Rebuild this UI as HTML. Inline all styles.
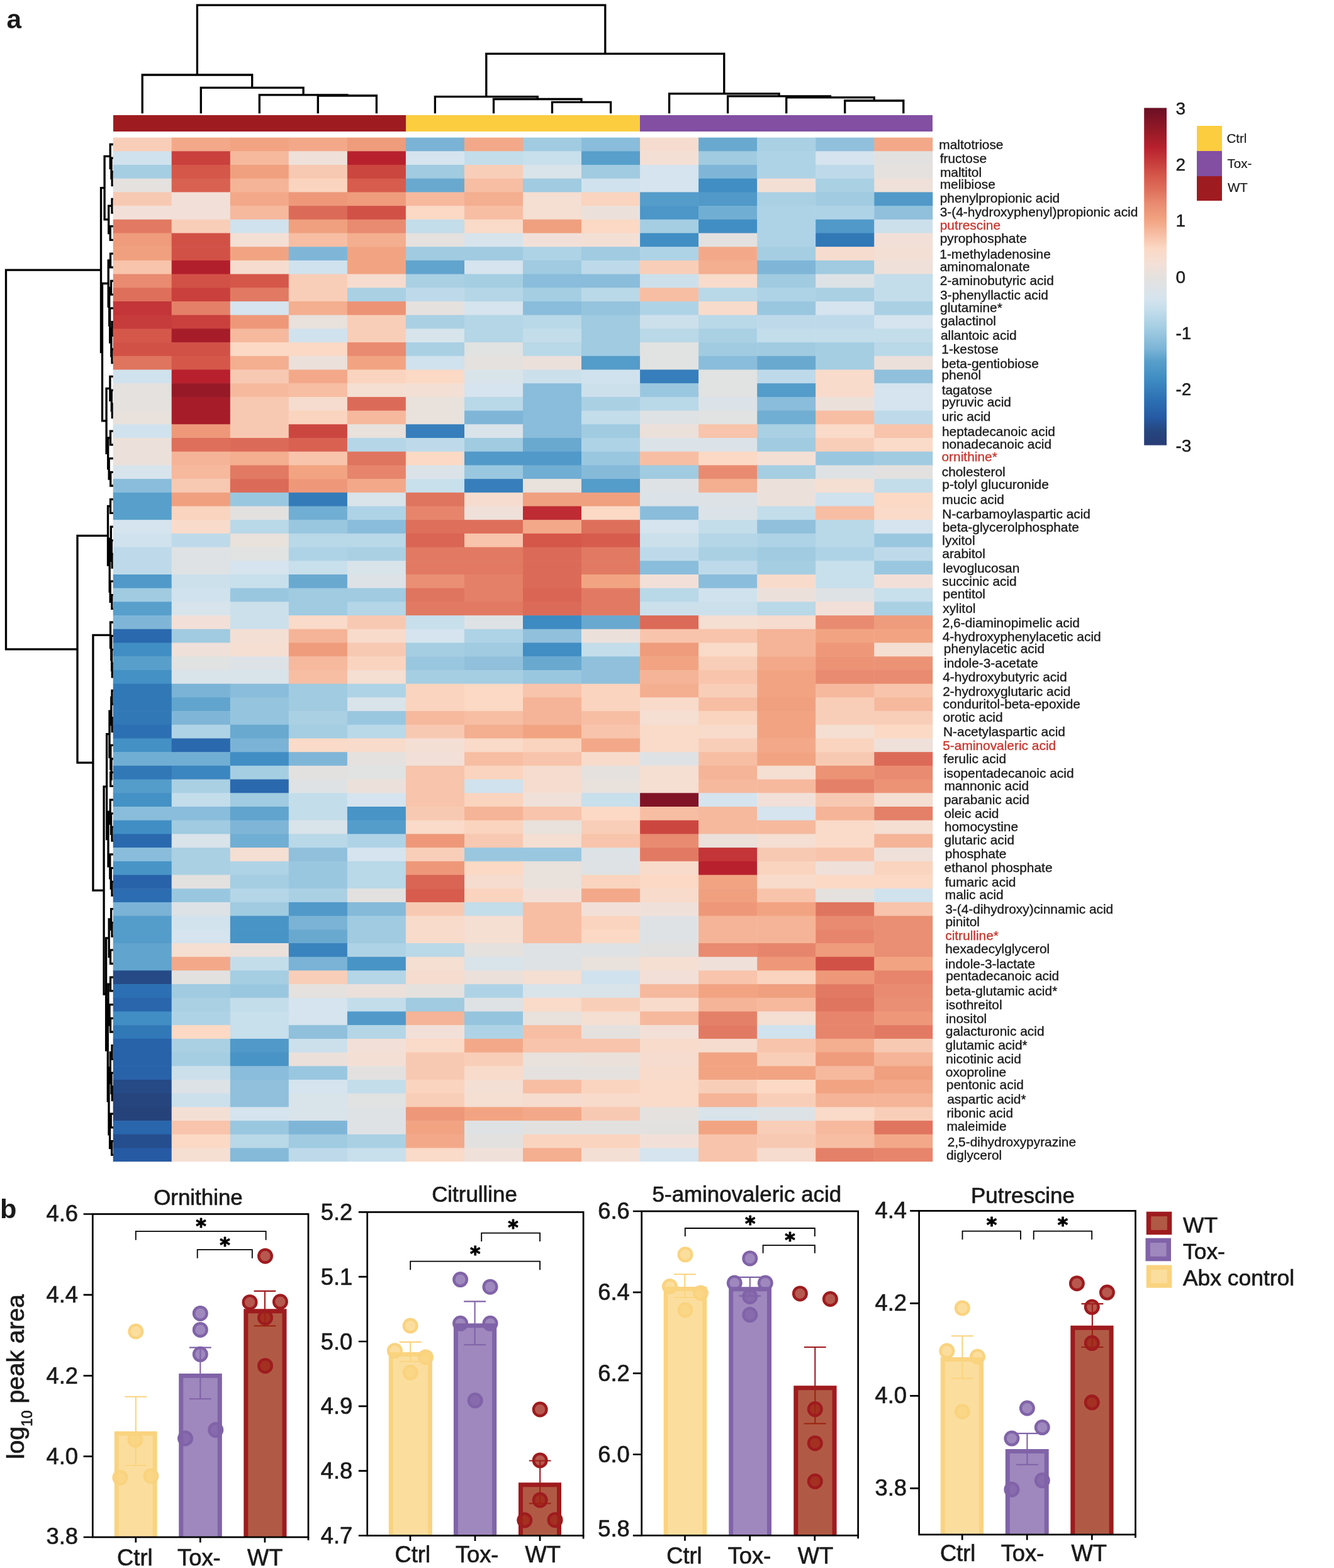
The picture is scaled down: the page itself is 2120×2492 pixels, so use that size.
<!DOCTYPE html>
<html lang="en"><head><meta charset="utf-8"><title>Figure</title>
<style>html,body{margin:0;padding:0;background:#fff}svg{display:block}text{font-family:"Liberation Sans", sans-serif;fill:#1a1a1a}.lb{font-size:20.9px;stroke:#1a1a1a;stroke-width:0.35}.lb .hl{stroke:#c8372d}.hl{fill:#c8372d}.tk{font-size:36.3px}.ti{font-size:34.9px}.cb{font-size:28px;stroke:#1a1a1a;stroke-width:0.4}.lg{font-size:20.5px;stroke:#1a1a1a;stroke-width:0.2}.lg2{font-size:35.4px}.pn{font-weight:bold;font-size:44px}.st{font-family:"DejaVu Sans",sans-serif;font-size:31.5px;font-weight:bold;fill:#000;stroke:#000;stroke-width:1.1;stroke-linejoin:round}.sk{stroke:#1a1a1a;stroke-width:0.7}.d{fill:none;stroke:#000;stroke-width:3.3;stroke-linecap:butt;stroke-linejoin:miter}.ax{fill:none;stroke:#000;stroke-width:2.7}.br{fill:none;stroke:#000;stroke-width:1.8}</style></head><body>
<svg width="2120" height="2492" viewBox="0 0 2120 2492" role="img" aria-label="Clustered heatmap of metabolites and bar charts of log10 peak area">
<rect width="2120" height="2492" fill="#fff"/>
<path class="d" d="M180.5 272.9 H178.2 V294.6 H180.5 M180.5 251.2 H177.0 V283.7 H178.2 M180.5 229.5 H175.2 V267.4 H177.0 M180.5 316.3 H178.0 V338.0 H180.5 M180.5 359.7 H175.2 V381.4 H180.5 M178.0 327.1 H172.7 V370.5 H175.2 M175.2 248.4 H166.1 V348.8 H172.7 M180.5 403.1 H175.5 V424.8 H180.5 M180.5 446.5 H176.5 V468.2 H180.5 M180.5 511.6 H178.2 V533.3 H180.5 M180.5 555.0 H178.0 V576.7 H180.5 M178.2 522.4 H176.8 V565.8 H178.0 M180.5 489.9 H174.7 V544.1 H176.8 M176.5 457.3 H173.7 V517.0 H174.7 M175.5 413.9 H172.2 V487.2 H173.7 M180.5 641.8 H178.3 V663.5 H180.5 M180.5 620.1 H177.3 V652.6 H178.3 M180.5 598.4 H174.9 V636.4 H177.3 M180.5 685.2 H175.5 V706.9 H180.5 M180.5 750.3 H175.7 V772.0 H180.5 M180.5 728.6 H173.2 V761.1 H175.7 M175.5 696.0 H171.7 V744.9 H173.2 M174.9 617.4 H169.1 V720.4 H171.7 M172.2 450.5 H162.5 V668.9 H169.1 M166.1 298.6 H160.5 V559.7 H162.5 M180.5 793.7 H175.5 V815.4 H180.5 M180.5 880.5 H178.2 V902.2 H180.5 M180.5 858.8 H177.3 V891.3 H178.2 M180.5 837.1 H176.3 V875.1 H177.3 M180.5 945.6 H177.8 V967.3 H180.5 M180.5 923.9 H175.2 V956.4 H177.8 M176.3 856.1 H174.2 V940.2 H175.2 M175.5 804.5 H171.5 V898.1 H174.2 M180.5 1054.1 H178.3 V1075.8 H180.5 M180.5 1032.4 H177.6 V1065.0 H178.3 M180.5 1010.7 H176.8 V1048.7 H177.6 M180.5 989.0 H175.5 V1029.7 H176.8 M180.5 1097.5 H178.0 V1119.2 H180.5 M180.5 1140.9 H178.2 V1162.6 H180.5 M178.0 1108.4 H176.8 V1151.8 H178.2 M180.5 1227.7 H175.7 V1249.4 H180.5 M180.5 1206.0 H177.0 V1238.6 H175.7 M180.5 1184.3 H175.8 V1222.3 H177.0 M176.8 1130.1 H174.0 V1203.3 H175.8 M180.5 1314.5 H178.0 V1336.2 H180.5 M180.5 1292.8 H176.5 V1325.4 H178.0 M180.5 1271.1 H175.2 V1309.1 H176.5 M180.5 1401.3 H178.0 V1423.0 H180.5 M180.5 1379.6 H176.3 V1412.2 H178.0 M180.5 1357.9 H174.8 V1395.9 H176.3 M175.2 1290.1 H172.0 V1376.9 H174.8 M174.0 1166.7 H169.6 V1333.5 H172.0 M180.5 1466.4 H178.0 V1488.1 H180.5 M180.5 1444.7 H176.6 V1477.3 H178.0 M180.5 1509.8 H175.5 V1531.5 H180.5 M176.6 1461.0 H173.2 V1520.7 H175.5 M180.5 1553.2 H175.5 V1574.9 H180.5 M180.5 1618.3 H175.5 V1640.0 H180.5 M180.5 1596.6 H174.0 V1629.2 H175.5 M175.5 1564.1 H172.0 V1612.9 H174.0 M180.5 1661.7 H178.0 V1683.4 H180.5 M180.5 1726.8 H178.3 V1748.5 H180.5 M180.5 1705.1 H177.0 V1737.7 H178.3 M178.0 1672.6 H175.3 V1721.4 H177.0 M180.5 1770.2 H176.2 V1791.9 H180.5 M180.5 1813.6 H177.6 V1835.3 H180.5 M176.2 1781.1 H174.6 V1824.5 H177.6 M175.3 1697.0 H173.0 V1802.8 H174.6 M172.0 1588.5 H171.3 V1749.9 H173.0 M173.2 1490.8 H168.6 V1669.2 H171.3 M169.6 1250.1 H165.1 V1580.0 H168.6 M175.5 1009.3 H147.9 V1415.1 H165.1 M171.5 851.3 H123.0 V1212.2 H147.9 M160.5 429.2 H9.5 V1031.8 H123.0"/>
<g>
<rect x="179.7" y="218.6" width="93.6" height="22.3" fill="#f9ceb8"/>
<rect x="272.7" y="218.6" width="93.6" height="22.3" fill="#f3a989"/>
<rect x="365.8" y="218.6" width="93.6" height="22.3" fill="#f2a482"/>
<rect x="458.8" y="218.6" width="93.6" height="22.3" fill="#f3a989"/>
<rect x="551.9" y="218.6" width="93.6" height="22.3" fill="#ef9c7c"/>
<rect x="644.9" y="218.6" width="93.6" height="22.3" fill="#7ab3d6"/>
<rect x="738.0" y="218.6" width="93.6" height="22.3" fill="#f3a989"/>
<rect x="831.0" y="218.6" width="93.6" height="22.3" fill="#a0cbe1"/>
<rect x="924.0" y="218.6" width="93.6" height="22.3" fill="#8abddb"/>
<rect x="1017.1" y="218.6" width="93.6" height="22.3" fill="#f6dcce"/>
<rect x="1110.1" y="218.6" width="93.6" height="22.3" fill="#69a9d0"/>
<rect x="1203.2" y="218.6" width="93.6" height="22.3" fill="#aad0e4"/>
<rect x="1296.2" y="218.6" width="93.6" height="22.3" fill="#90c0dc"/>
<rect x="1389.3" y="218.6" width="93.0" height="22.3" fill="#f3a989"/>
<rect x="179.7" y="240.3" width="93.6" height="22.3" fill="#d0e2ed"/>
<rect x="272.7" y="240.3" width="93.6" height="22.3" fill="#c9403d"/>
<rect x="365.8" y="240.3" width="93.6" height="22.3" fill="#f6b99e"/>
<rect x="458.8" y="240.3" width="93.6" height="22.3" fill="#efe0da"/>
<rect x="551.9" y="240.3" width="93.6" height="22.3" fill="#b8202e"/>
<rect x="644.9" y="240.3" width="93.6" height="22.3" fill="#d5e4ee"/>
<rect x="738.0" y="240.3" width="93.6" height="22.3" fill="#c3ddeb"/>
<rect x="831.0" y="240.3" width="93.6" height="22.3" fill="#c8dfec"/>
<rect x="924.0" y="240.3" width="93.6" height="22.3" fill="#589fcb"/>
<rect x="1017.1" y="240.3" width="93.6" height="22.3" fill="#f4dfd5"/>
<rect x="1110.1" y="240.3" width="93.6" height="22.3" fill="#a0cbe1"/>
<rect x="1203.2" y="240.3" width="93.6" height="22.3" fill="#afd3e6"/>
<rect x="1296.2" y="240.3" width="93.6" height="22.3" fill="#d5e4ee"/>
<rect x="1389.3" y="240.3" width="93.0" height="22.3" fill="#e3e1e0"/>
<rect x="179.7" y="262.0" width="93.6" height="22.3" fill="#a5cee3"/>
<rect x="272.7" y="262.0" width="93.6" height="22.3" fill="#d5574a"/>
<rect x="365.8" y="262.0" width="93.6" height="22.3" fill="#f0a07f"/>
<rect x="458.8" y="262.0" width="93.6" height="22.3" fill="#f8c9b2"/>
<rect x="551.9" y="262.0" width="93.6" height="22.3" fill="#cc4640"/>
<rect x="644.9" y="262.0" width="93.6" height="22.3" fill="#a0cbe1"/>
<rect x="738.0" y="262.0" width="93.6" height="22.3" fill="#f9ceb8"/>
<rect x="831.0" y="262.0" width="93.6" height="22.3" fill="#d9e3ea"/>
<rect x="924.0" y="262.0" width="93.6" height="22.3" fill="#a0cbe1"/>
<rect x="1017.1" y="262.0" width="93.6" height="22.3" fill="#d5e4ee"/>
<rect x="1110.1" y="262.0" width="93.6" height="22.3" fill="#7fb6d8"/>
<rect x="1203.2" y="262.0" width="93.6" height="22.3" fill="#afd3e6"/>
<rect x="1296.2" y="262.0" width="93.6" height="22.3" fill="#bedaea"/>
<rect x="1389.3" y="262.0" width="93.0" height="22.3" fill="#e5e1de"/>
<rect x="179.7" y="283.7" width="93.6" height="22.3" fill="#e5e1de"/>
<rect x="272.7" y="283.7" width="93.6" height="22.3" fill="#d96151"/>
<rect x="365.8" y="283.7" width="93.6" height="22.3" fill="#f5b497"/>
<rect x="458.8" y="283.7" width="93.6" height="22.3" fill="#fad4be"/>
<rect x="551.9" y="283.7" width="93.6" height="22.3" fill="#d75c4d"/>
<rect x="644.9" y="283.7" width="93.6" height="22.3" fill="#69a9d0"/>
<rect x="738.0" y="283.7" width="93.6" height="22.3" fill="#f7bea4"/>
<rect x="831.0" y="283.7" width="93.6" height="22.3" fill="#a0cbe1"/>
<rect x="924.0" y="283.7" width="93.6" height="22.3" fill="#d0e2ed"/>
<rect x="1017.1" y="283.7" width="93.6" height="22.3" fill="#d5e4ee"/>
<rect x="1110.1" y="283.7" width="93.6" height="22.3" fill="#408ec4"/>
<rect x="1203.2" y="283.7" width="93.6" height="22.3" fill="#f4dfd5"/>
<rect x="1296.2" y="283.7" width="93.6" height="22.3" fill="#aad0e4"/>
<rect x="1389.3" y="283.7" width="93.0" height="22.3" fill="#efe0da"/>
<rect x="179.7" y="305.4" width="93.6" height="22.3" fill="#f8c9b2"/>
<rect x="272.7" y="305.4" width="93.6" height="22.3" fill="#f2e0d8"/>
<rect x="365.8" y="305.4" width="93.6" height="22.3" fill="#f3a989"/>
<rect x="458.8" y="305.4" width="93.6" height="22.3" fill="#ee9879"/>
<rect x="551.9" y="305.4" width="93.6" height="22.3" fill="#ef9c7c"/>
<rect x="644.9" y="305.4" width="93.6" height="22.3" fill="#f6b99e"/>
<rect x="738.0" y="305.4" width="93.6" height="22.3" fill="#f4ae90"/>
<rect x="831.0" y="305.4" width="93.6" height="22.3" fill="#f5ded2"/>
<rect x="924.0" y="305.4" width="93.6" height="22.3" fill="#fad4be"/>
<rect x="1017.1" y="305.4" width="93.6" height="22.3" fill="#549cca"/>
<rect x="1110.1" y="305.4" width="93.6" height="22.3" fill="#5099c9"/>
<rect x="1203.2" y="305.4" width="93.6" height="22.3" fill="#aad0e4"/>
<rect x="1296.2" y="305.4" width="93.6" height="22.3" fill="#a0cbe1"/>
<rect x="1389.3" y="305.4" width="93.0" height="22.3" fill="#5099c9"/>
<rect x="179.7" y="327.1" width="93.6" height="22.3" fill="#f2e0d8"/>
<rect x="272.7" y="327.1" width="93.6" height="22.3" fill="#f2e0d8"/>
<rect x="365.8" y="327.1" width="93.6" height="22.3" fill="#f6b99e"/>
<rect x="458.8" y="327.1" width="93.6" height="22.3" fill="#dc6a58"/>
<rect x="551.9" y="327.1" width="93.6" height="22.3" fill="#d25147"/>
<rect x="644.9" y="327.1" width="93.6" height="22.3" fill="#fbd9c5"/>
<rect x="738.0" y="327.1" width="93.6" height="22.3" fill="#f7bea4"/>
<rect x="831.0" y="327.1" width="93.6" height="22.3" fill="#f5ded2"/>
<rect x="924.0" y="327.1" width="93.6" height="22.3" fill="#ece0db"/>
<rect x="1017.1" y="327.1" width="93.6" height="22.3" fill="#4c96c8"/>
<rect x="1110.1" y="327.1" width="93.6" height="22.3" fill="#71aed3"/>
<rect x="1203.2" y="327.1" width="93.6" height="22.3" fill="#afd3e6"/>
<rect x="1296.2" y="327.1" width="93.6" height="22.3" fill="#afd3e6"/>
<rect x="1389.3" y="327.1" width="93.0" height="22.3" fill="#90c0dc"/>
<rect x="179.7" y="348.8" width="93.6" height="22.3" fill="#e27a63"/>
<rect x="272.7" y="348.8" width="93.6" height="22.3" fill="#f9ceb8"/>
<rect x="365.8" y="348.8" width="93.6" height="22.3" fill="#d0e2ed"/>
<rect x="458.8" y="348.8" width="93.6" height="22.3" fill="#f0a07f"/>
<rect x="551.9" y="348.8" width="93.6" height="22.3" fill="#e98b70"/>
<rect x="644.9" y="348.8" width="93.6" height="22.3" fill="#c3ddeb"/>
<rect x="738.0" y="348.8" width="93.6" height="22.3" fill="#fadac8"/>
<rect x="831.0" y="348.8" width="93.6" height="22.3" fill="#f0a07f"/>
<rect x="924.0" y="348.8" width="93.6" height="22.3" fill="#fbd9c5"/>
<rect x="1017.1" y="348.8" width="93.6" height="22.3" fill="#a5cee3"/>
<rect x="1110.1" y="348.8" width="93.6" height="22.3" fill="#408ec4"/>
<rect x="1203.2" y="348.8" width="93.6" height="22.3" fill="#afd3e6"/>
<rect x="1296.2" y="348.8" width="93.6" height="22.3" fill="#5099c9"/>
<rect x="1389.3" y="348.8" width="93.0" height="22.3" fill="#cce0ec"/>
<rect x="179.7" y="370.5" width="93.6" height="22.3" fill="#ef9c7c"/>
<rect x="272.7" y="370.5" width="93.6" height="22.3" fill="#d25147"/>
<rect x="365.8" y="370.5" width="93.6" height="22.3" fill="#f4dfd5"/>
<rect x="458.8" y="370.5" width="93.6" height="22.3" fill="#f7bea4"/>
<rect x="551.9" y="370.5" width="93.6" height="22.3" fill="#f4ae90"/>
<rect x="644.9" y="370.5" width="93.6" height="22.3" fill="#e5e1de"/>
<rect x="738.0" y="370.5" width="93.6" height="22.3" fill="#d7e4ec"/>
<rect x="831.0" y="370.5" width="93.6" height="22.3" fill="#f2e0d8"/>
<rect x="924.0" y="370.5" width="93.6" height="22.3" fill="#f4dfd5"/>
<rect x="1017.1" y="370.5" width="93.6" height="22.3" fill="#408ec4"/>
<rect x="1110.1" y="370.5" width="93.6" height="22.3" fill="#e3e1e0"/>
<rect x="1203.2" y="370.5" width="93.6" height="22.3" fill="#afd3e6"/>
<rect x="1296.2" y="370.5" width="93.6" height="22.3" fill="#3178b7"/>
<rect x="1389.3" y="370.5" width="93.0" height="22.3" fill="#f2e0d8"/>
<rect x="179.7" y="392.2" width="93.6" height="22.3" fill="#f0a07f"/>
<rect x="272.7" y="392.2" width="93.6" height="22.3" fill="#d25147"/>
<rect x="365.8" y="392.2" width="93.6" height="22.3" fill="#f2a482"/>
<rect x="458.8" y="392.2" width="93.6" height="22.3" fill="#7fb6d8"/>
<rect x="551.9" y="392.2" width="93.6" height="22.3" fill="#f2a482"/>
<rect x="644.9" y="392.2" width="93.6" height="22.3" fill="#a0cbe1"/>
<rect x="738.0" y="392.2" width="93.6" height="22.3" fill="#a0cbe1"/>
<rect x="831.0" y="392.2" width="93.6" height="22.3" fill="#afd3e6"/>
<rect x="924.0" y="392.2" width="93.6" height="22.3" fill="#a0cbe1"/>
<rect x="1017.1" y="392.2" width="93.6" height="22.3" fill="#afd3e6"/>
<rect x="1110.1" y="392.2" width="93.6" height="22.3" fill="#f3a989"/>
<rect x="1203.2" y="392.2" width="93.6" height="22.3" fill="#a5cee3"/>
<rect x="1296.2" y="392.2" width="93.6" height="22.3" fill="#f6dcce"/>
<rect x="1389.3" y="392.2" width="93.0" height="22.3" fill="#f4dfd5"/>
<rect x="179.7" y="413.9" width="93.6" height="22.3" fill="#f8c4ab"/>
<rect x="272.7" y="413.9" width="93.6" height="22.3" fill="#b21f2c"/>
<rect x="365.8" y="413.9" width="93.6" height="22.3" fill="#f6dcce"/>
<rect x="458.8" y="413.9" width="93.6" height="22.3" fill="#d0e2ed"/>
<rect x="551.9" y="413.9" width="93.6" height="22.3" fill="#f2a482"/>
<rect x="644.9" y="413.9" width="93.6" height="22.3" fill="#61a4ce"/>
<rect x="738.0" y="413.9" width="93.6" height="22.3" fill="#d5e4ee"/>
<rect x="831.0" y="413.9" width="93.6" height="22.3" fill="#a0cbe1"/>
<rect x="924.0" y="413.9" width="93.6" height="22.3" fill="#bedaea"/>
<rect x="1017.1" y="413.9" width="93.6" height="22.3" fill="#f9ceb8"/>
<rect x="1110.1" y="413.9" width="93.6" height="22.3" fill="#f4ae90"/>
<rect x="1203.2" y="413.9" width="93.6" height="22.3" fill="#7fb6d8"/>
<rect x="1296.2" y="413.9" width="93.6" height="22.3" fill="#a0cbe1"/>
<rect x="1389.3" y="413.9" width="93.0" height="22.3" fill="#efe0da"/>
<rect x="179.7" y="435.6" width="93.6" height="22.3" fill="#e98b70"/>
<rect x="272.7" y="435.6" width="93.6" height="22.3" fill="#d25147"/>
<rect x="365.8" y="435.6" width="93.6" height="22.3" fill="#d5574a"/>
<rect x="458.8" y="435.6" width="93.6" height="22.3" fill="#f9ceb8"/>
<rect x="551.9" y="435.6" width="93.6" height="22.3" fill="#f6dcce"/>
<rect x="644.9" y="435.6" width="93.6" height="22.3" fill="#aad0e4"/>
<rect x="738.0" y="435.6" width="93.6" height="22.3" fill="#a5cee3"/>
<rect x="831.0" y="435.6" width="93.6" height="22.3" fill="#8abddb"/>
<rect x="924.0" y="435.6" width="93.6" height="22.3" fill="#8abddb"/>
<rect x="1017.1" y="435.6" width="93.6" height="22.3" fill="#cce0ec"/>
<rect x="1110.1" y="435.6" width="93.6" height="22.3" fill="#f8dbcb"/>
<rect x="1203.2" y="435.6" width="93.6" height="22.3" fill="#a0cbe1"/>
<rect x="1296.2" y="435.6" width="93.6" height="22.3" fill="#dde2e6"/>
<rect x="1389.3" y="435.6" width="93.0" height="22.3" fill="#c3ddeb"/>
<rect x="179.7" y="457.3" width="93.6" height="22.3" fill="#de6f5b"/>
<rect x="272.7" y="457.3" width="93.6" height="22.3" fill="#c9403d"/>
<rect x="365.8" y="457.3" width="93.6" height="22.3" fill="#e27a63"/>
<rect x="458.8" y="457.3" width="93.6" height="22.3" fill="#f9ceb8"/>
<rect x="551.9" y="457.3" width="93.6" height="22.3" fill="#aad0e4"/>
<rect x="644.9" y="457.3" width="93.6" height="22.3" fill="#bedaea"/>
<rect x="738.0" y="457.3" width="93.6" height="22.3" fill="#b4d6e7"/>
<rect x="831.0" y="457.3" width="93.6" height="22.3" fill="#a5cee3"/>
<rect x="924.0" y="457.3" width="93.6" height="22.3" fill="#b9d8e8"/>
<rect x="1017.1" y="457.3" width="93.6" height="22.3" fill="#f7bea4"/>
<rect x="1110.1" y="457.3" width="93.6" height="22.3" fill="#b9d8e8"/>
<rect x="1203.2" y="457.3" width="93.6" height="22.3" fill="#afd3e6"/>
<rect x="1296.2" y="457.3" width="93.6" height="22.3" fill="#aad0e4"/>
<rect x="1389.3" y="457.3" width="93.0" height="22.3" fill="#c3ddeb"/>
<rect x="179.7" y="479.0" width="93.6" height="22.3" fill="#c33538"/>
<rect x="272.7" y="479.0" width="93.6" height="22.3" fill="#e58068"/>
<rect x="365.8" y="479.0" width="93.6" height="22.3" fill="#d5e4ee"/>
<rect x="458.8" y="479.0" width="93.6" height="22.3" fill="#f4ae90"/>
<rect x="551.9" y="479.0" width="93.6" height="22.3" fill="#ec9376"/>
<rect x="644.9" y="479.0" width="93.6" height="22.3" fill="#e5e1de"/>
<rect x="738.0" y="479.0" width="93.6" height="22.3" fill="#d5e4ee"/>
<rect x="831.0" y="479.0" width="93.6" height="22.3" fill="#8abddb"/>
<rect x="924.0" y="479.0" width="93.6" height="22.3" fill="#95c4de"/>
<rect x="1017.1" y="479.0" width="93.6" height="22.3" fill="#afd3e6"/>
<rect x="1110.1" y="479.0" width="93.6" height="22.3" fill="#f8dbcb"/>
<rect x="1203.2" y="479.0" width="93.6" height="22.3" fill="#9ac7e0"/>
<rect x="1296.2" y="479.0" width="93.6" height="22.3" fill="#d5e4ee"/>
<rect x="1389.3" y="479.0" width="93.0" height="22.3" fill="#aad0e4"/>
<rect x="179.7" y="500.7" width="93.6" height="22.3" fill="#c63b3b"/>
<rect x="272.7" y="500.7" width="93.6" height="22.3" fill="#c9403d"/>
<rect x="365.8" y="500.7" width="93.6" height="22.3" fill="#ee9879"/>
<rect x="458.8" y="500.7" width="93.6" height="22.3" fill="#e8e1dc"/>
<rect x="551.9" y="500.7" width="93.6" height="22.3" fill="#f9ceb8"/>
<rect x="644.9" y="500.7" width="93.6" height="22.3" fill="#aad0e4"/>
<rect x="738.0" y="500.7" width="93.6" height="22.3" fill="#b4d6e7"/>
<rect x="831.0" y="500.7" width="93.6" height="22.3" fill="#b9d8e8"/>
<rect x="924.0" y="500.7" width="93.6" height="22.3" fill="#a0cbe1"/>
<rect x="1017.1" y="500.7" width="93.6" height="22.3" fill="#cce0ec"/>
<rect x="1110.1" y="500.7" width="93.6" height="22.3" fill="#b9d8e8"/>
<rect x="1203.2" y="500.7" width="93.6" height="22.3" fill="#bedaea"/>
<rect x="1296.2" y="500.7" width="93.6" height="22.3" fill="#bedaea"/>
<rect x="1389.3" y="500.7" width="93.0" height="22.3" fill="#d5e4ee"/>
<rect x="179.7" y="522.4" width="93.6" height="22.3" fill="#d5574a"/>
<rect x="272.7" y="522.4" width="93.6" height="22.3" fill="#a61d29"/>
<rect x="365.8" y="522.4" width="93.6" height="22.3" fill="#f6b99e"/>
<rect x="458.8" y="522.4" width="93.6" height="22.3" fill="#d0e2ed"/>
<rect x="551.9" y="522.4" width="93.6" height="22.3" fill="#f9ceb8"/>
<rect x="644.9" y="522.4" width="93.6" height="22.3" fill="#d7e4ec"/>
<rect x="738.0" y="522.4" width="93.6" height="22.3" fill="#b4d6e7"/>
<rect x="831.0" y="522.4" width="93.6" height="22.3" fill="#c3ddeb"/>
<rect x="924.0" y="522.4" width="93.6" height="22.3" fill="#a0cbe1"/>
<rect x="1017.1" y="522.4" width="93.6" height="22.3" fill="#b9d8e8"/>
<rect x="1110.1" y="522.4" width="93.6" height="22.3" fill="#aad0e4"/>
<rect x="1203.2" y="522.4" width="93.6" height="22.3" fill="#c3ddeb"/>
<rect x="1296.2" y="522.4" width="93.6" height="22.3" fill="#c3ddeb"/>
<rect x="1389.3" y="522.4" width="93.0" height="22.3" fill="#c3ddeb"/>
<rect x="179.7" y="544.1" width="93.6" height="22.3" fill="#d25147"/>
<rect x="272.7" y="544.1" width="93.6" height="22.3" fill="#d25147"/>
<rect x="365.8" y="544.1" width="93.6" height="22.3" fill="#fbd9c5"/>
<rect x="458.8" y="544.1" width="93.6" height="22.3" fill="#fbd9c5"/>
<rect x="551.9" y="544.1" width="93.6" height="22.3" fill="#e98b70"/>
<rect x="644.9" y="544.1" width="93.6" height="22.3" fill="#aad0e4"/>
<rect x="738.0" y="544.1" width="93.6" height="22.3" fill="#e1e2e2"/>
<rect x="831.0" y="544.1" width="93.6" height="22.3" fill="#b9d8e8"/>
<rect x="924.0" y="544.1" width="93.6" height="22.3" fill="#a0cbe1"/>
<rect x="1017.1" y="544.1" width="93.6" height="22.3" fill="#e1e2e2"/>
<rect x="1110.1" y="544.1" width="93.6" height="22.3" fill="#a0cbe1"/>
<rect x="1203.2" y="544.1" width="93.6" height="22.3" fill="#a0cbe1"/>
<rect x="1296.2" y="544.1" width="93.6" height="22.3" fill="#a5cee3"/>
<rect x="1389.3" y="544.1" width="93.0" height="22.3" fill="#b9d8e8"/>
<rect x="179.7" y="565.8" width="93.6" height="22.3" fill="#e0755f"/>
<rect x="272.7" y="565.8" width="93.6" height="22.3" fill="#d5574a"/>
<rect x="365.8" y="565.8" width="93.6" height="22.3" fill="#f4ae90"/>
<rect x="458.8" y="565.8" width="93.6" height="22.3" fill="#ece0db"/>
<rect x="551.9" y="565.8" width="93.6" height="22.3" fill="#f2a482"/>
<rect x="644.9" y="565.8" width="93.6" height="22.3" fill="#d0e2ed"/>
<rect x="738.0" y="565.8" width="93.6" height="22.3" fill="#e5e1de"/>
<rect x="831.0" y="565.8" width="93.6" height="22.3" fill="#ece0db"/>
<rect x="924.0" y="565.8" width="93.6" height="22.3" fill="#549cca"/>
<rect x="1017.1" y="565.8" width="93.6" height="22.3" fill="#e1e2e2"/>
<rect x="1110.1" y="565.8" width="93.6" height="22.3" fill="#8abddb"/>
<rect x="1203.2" y="565.8" width="93.6" height="22.3" fill="#69a9d0"/>
<rect x="1296.2" y="565.8" width="93.6" height="22.3" fill="#a5cee3"/>
<rect x="1389.3" y="565.8" width="93.0" height="22.3" fill="#ece0db"/>
<rect x="179.7" y="587.5" width="93.6" height="22.3" fill="#d0e2ed"/>
<rect x="272.7" y="587.5" width="93.6" height="22.3" fill="#b8202e"/>
<rect x="365.8" y="587.5" width="93.6" height="22.3" fill="#f8c9b2"/>
<rect x="458.8" y="587.5" width="93.6" height="22.3" fill="#f3a989"/>
<rect x="551.9" y="587.5" width="93.6" height="22.3" fill="#fad4be"/>
<rect x="644.9" y="587.5" width="93.6" height="22.3" fill="#fbd9c5"/>
<rect x="738.0" y="587.5" width="93.6" height="22.3" fill="#d9e3ea"/>
<rect x="831.0" y="587.5" width="93.6" height="22.3" fill="#cce0ec"/>
<rect x="924.0" y="587.5" width="93.6" height="22.3" fill="#d0e2ed"/>
<rect x="1017.1" y="587.5" width="93.6" height="22.3" fill="#367fbc"/>
<rect x="1110.1" y="587.5" width="93.6" height="22.3" fill="#e1e2e2"/>
<rect x="1203.2" y="587.5" width="93.6" height="22.3" fill="#bedaea"/>
<rect x="1296.2" y="587.5" width="93.6" height="22.3" fill="#f8dbcb"/>
<rect x="1389.3" y="587.5" width="93.0" height="22.3" fill="#90c0dc"/>
<rect x="179.7" y="609.2" width="93.6" height="22.3" fill="#e5e1de"/>
<rect x="272.7" y="609.2" width="93.6" height="22.3" fill="#951927"/>
<rect x="365.8" y="609.2" width="93.6" height="22.3" fill="#f6b99e"/>
<rect x="458.8" y="609.2" width="93.6" height="22.3" fill="#f7bea4"/>
<rect x="551.9" y="609.2" width="93.6" height="22.3" fill="#f5ded2"/>
<rect x="644.9" y="609.2" width="93.6" height="22.3" fill="#f4dfd5"/>
<rect x="738.0" y="609.2" width="93.6" height="22.3" fill="#d5e4ee"/>
<rect x="831.0" y="609.2" width="93.6" height="22.3" fill="#8abddb"/>
<rect x="924.0" y="609.2" width="93.6" height="22.3" fill="#cce0ec"/>
<rect x="1017.1" y="609.2" width="93.6" height="22.3" fill="#9ac7e0"/>
<rect x="1110.1" y="609.2" width="93.6" height="22.3" fill="#e1e2e2"/>
<rect x="1203.2" y="609.2" width="93.6" height="22.3" fill="#549cca"/>
<rect x="1296.2" y="609.2" width="93.6" height="22.3" fill="#f8dbcb"/>
<rect x="1389.3" y="609.2" width="93.0" height="22.3" fill="#d5e4ee"/>
<rect x="179.7" y="630.9" width="93.6" height="22.3" fill="#e5e1de"/>
<rect x="272.7" y="630.9" width="93.6" height="22.3" fill="#a61d29"/>
<rect x="365.8" y="630.9" width="93.6" height="22.3" fill="#f8c9b2"/>
<rect x="458.8" y="630.9" width="93.6" height="22.3" fill="#f6dcce"/>
<rect x="551.9" y="630.9" width="93.6" height="22.3" fill="#dc6a58"/>
<rect x="644.9" y="630.9" width="93.6" height="22.3" fill="#e8e1dc"/>
<rect x="738.0" y="630.9" width="93.6" height="22.3" fill="#b9d8e8"/>
<rect x="831.0" y="630.9" width="93.6" height="22.3" fill="#8abddb"/>
<rect x="924.0" y="630.9" width="93.6" height="22.3" fill="#aad0e4"/>
<rect x="1017.1" y="630.9" width="93.6" height="22.3" fill="#b9d8e8"/>
<rect x="1110.1" y="630.9" width="93.6" height="22.3" fill="#dbe3e8"/>
<rect x="1203.2" y="630.9" width="93.6" height="22.3" fill="#8abddb"/>
<rect x="1296.2" y="630.9" width="93.6" height="22.3" fill="#ece0db"/>
<rect x="1389.3" y="630.9" width="93.0" height="22.3" fill="#d5e4ee"/>
<rect x="179.7" y="652.6" width="93.6" height="22.3" fill="#e8e1dc"/>
<rect x="272.7" y="652.6" width="93.6" height="22.3" fill="#a61d29"/>
<rect x="365.8" y="652.6" width="93.6" height="22.3" fill="#f8c9b2"/>
<rect x="458.8" y="652.6" width="93.6" height="22.3" fill="#fad4be"/>
<rect x="551.9" y="652.6" width="93.6" height="22.3" fill="#f6b99e"/>
<rect x="644.9" y="652.6" width="93.6" height="22.3" fill="#e8e1dc"/>
<rect x="738.0" y="652.6" width="93.6" height="22.3" fill="#7fb6d8"/>
<rect x="831.0" y="652.6" width="93.6" height="22.3" fill="#8abddb"/>
<rect x="924.0" y="652.6" width="93.6" height="22.3" fill="#c3ddeb"/>
<rect x="1017.1" y="652.6" width="93.6" height="22.3" fill="#dfe2e4"/>
<rect x="1110.1" y="652.6" width="93.6" height="22.3" fill="#e1e2e2"/>
<rect x="1203.2" y="652.6" width="93.6" height="22.3" fill="#71aed3"/>
<rect x="1296.2" y="652.6" width="93.6" height="22.3" fill="#f7bea4"/>
<rect x="1389.3" y="652.6" width="93.0" height="22.3" fill="#bedaea"/>
<rect x="179.7" y="674.3" width="93.6" height="22.3" fill="#d0e2ed"/>
<rect x="272.7" y="674.3" width="93.6" height="22.3" fill="#ee9879"/>
<rect x="365.8" y="674.3" width="93.6" height="22.3" fill="#f8c9b2"/>
<rect x="458.8" y="674.3" width="93.6" height="22.3" fill="#cc4640"/>
<rect x="551.9" y="674.3" width="93.6" height="22.3" fill="#e8e1dc"/>
<rect x="644.9" y="674.3" width="93.6" height="22.3" fill="#367fbc"/>
<rect x="738.0" y="674.3" width="93.6" height="22.3" fill="#d9e3ea"/>
<rect x="831.0" y="674.3" width="93.6" height="22.3" fill="#8abddb"/>
<rect x="924.0" y="674.3" width="93.6" height="22.3" fill="#a0cbe1"/>
<rect x="1017.1" y="674.3" width="93.6" height="22.3" fill="#ece0db"/>
<rect x="1110.1" y="674.3" width="93.6" height="22.3" fill="#f8c4ab"/>
<rect x="1203.2" y="674.3" width="93.6" height="22.3" fill="#aad0e4"/>
<rect x="1296.2" y="674.3" width="93.6" height="22.3" fill="#fadac8"/>
<rect x="1389.3" y="674.3" width="93.0" height="22.3" fill="#f8c4ab"/>
<rect x="179.7" y="696.0" width="93.6" height="22.3" fill="#ece0db"/>
<rect x="272.7" y="696.0" width="93.6" height="22.3" fill="#de6f5b"/>
<rect x="365.8" y="696.0" width="93.6" height="22.3" fill="#dc6a58"/>
<rect x="458.8" y="696.0" width="93.6" height="22.3" fill="#d96151"/>
<rect x="551.9" y="696.0" width="93.6" height="22.3" fill="#b4d6e7"/>
<rect x="644.9" y="696.0" width="93.6" height="22.3" fill="#bedaea"/>
<rect x="738.0" y="696.0" width="93.6" height="22.3" fill="#a0cbe1"/>
<rect x="831.0" y="696.0" width="93.6" height="22.3" fill="#69a9d0"/>
<rect x="924.0" y="696.0" width="93.6" height="22.3" fill="#afd3e6"/>
<rect x="1017.1" y="696.0" width="93.6" height="22.3" fill="#dbe3e8"/>
<rect x="1110.1" y="696.0" width="93.6" height="22.3" fill="#dbe3e8"/>
<rect x="1203.2" y="696.0" width="93.6" height="22.3" fill="#a0cbe1"/>
<rect x="1296.2" y="696.0" width="93.6" height="22.3" fill="#f9ceb8"/>
<rect x="1389.3" y="696.0" width="93.0" height="22.3" fill="#fadac8"/>
<rect x="179.7" y="717.7" width="93.6" height="22.3" fill="#ece0db"/>
<rect x="272.7" y="717.7" width="93.6" height="22.3" fill="#f5b497"/>
<rect x="365.8" y="717.7" width="93.6" height="22.3" fill="#f4ae90"/>
<rect x="458.8" y="717.7" width="93.6" height="22.3" fill="#f8c4ab"/>
<rect x="551.9" y="717.7" width="93.6" height="22.3" fill="#e0755f"/>
<rect x="644.9" y="717.7" width="93.6" height="22.3" fill="#fbd9c5"/>
<rect x="738.0" y="717.7" width="93.6" height="22.3" fill="#5099c9"/>
<rect x="831.0" y="717.7" width="93.6" height="22.3" fill="#5099c9"/>
<rect x="924.0" y="717.7" width="93.6" height="22.3" fill="#9ac7e0"/>
<rect x="1017.1" y="717.7" width="93.6" height="22.3" fill="#f7bea4"/>
<rect x="1110.1" y="717.7" width="93.6" height="22.3" fill="#fbd9c5"/>
<rect x="1203.2" y="717.7" width="93.6" height="22.3" fill="#f4dfd5"/>
<rect x="1296.2" y="717.7" width="93.6" height="22.3" fill="#9ac7e0"/>
<rect x="1389.3" y="717.7" width="93.0" height="22.3" fill="#a0cbe1"/>
<rect x="179.7" y="739.4" width="93.6" height="22.3" fill="#d7e4ec"/>
<rect x="272.7" y="739.4" width="93.6" height="22.3" fill="#f6b99e"/>
<rect x="365.8" y="739.4" width="93.6" height="22.3" fill="#e27a63"/>
<rect x="458.8" y="739.4" width="93.6" height="22.3" fill="#f2a482"/>
<rect x="551.9" y="739.4" width="93.6" height="22.3" fill="#e7856c"/>
<rect x="644.9" y="739.4" width="93.6" height="22.3" fill="#dbe3e8"/>
<rect x="738.0" y="739.4" width="93.6" height="22.3" fill="#9ac7e0"/>
<rect x="831.0" y="739.4" width="93.6" height="22.3" fill="#71aed3"/>
<rect x="924.0" y="739.4" width="93.6" height="22.3" fill="#85bad9"/>
<rect x="1017.1" y="739.4" width="93.6" height="22.3" fill="#a0cbe1"/>
<rect x="1110.1" y="739.4" width="93.6" height="22.3" fill="#e98b70"/>
<rect x="1203.2" y="739.4" width="93.6" height="22.3" fill="#a5cee3"/>
<rect x="1296.2" y="739.4" width="93.6" height="22.3" fill="#dfe2e4"/>
<rect x="1389.3" y="739.4" width="93.0" height="22.3" fill="#e3e1e0"/>
<rect x="179.7" y="761.1" width="93.6" height="22.3" fill="#8abddb"/>
<rect x="272.7" y="761.1" width="93.6" height="22.3" fill="#f8c9b2"/>
<rect x="365.8" y="761.1" width="93.6" height="22.3" fill="#dc6a58"/>
<rect x="458.8" y="761.1" width="93.6" height="22.3" fill="#ee9879"/>
<rect x="551.9" y="761.1" width="93.6" height="22.3" fill="#f3a989"/>
<rect x="644.9" y="761.1" width="93.6" height="22.3" fill="#c8dfec"/>
<rect x="738.0" y="761.1" width="93.6" height="22.3" fill="#367fbc"/>
<rect x="831.0" y="761.1" width="93.6" height="22.3" fill="#e8e1dc"/>
<rect x="924.0" y="761.1" width="93.6" height="22.3" fill="#549cca"/>
<rect x="1017.1" y="761.1" width="93.6" height="22.3" fill="#dfe2e4"/>
<rect x="1110.1" y="761.1" width="93.6" height="22.3" fill="#f4ae90"/>
<rect x="1203.2" y="761.1" width="93.6" height="22.3" fill="#ece0db"/>
<rect x="1296.2" y="761.1" width="93.6" height="22.3" fill="#f5ded2"/>
<rect x="1389.3" y="761.1" width="93.0" height="22.3" fill="#c3ddeb"/>
<rect x="179.7" y="782.8" width="93.6" height="22.3" fill="#589fcb"/>
<rect x="272.7" y="782.8" width="93.6" height="22.3" fill="#f0a07f"/>
<rect x="365.8" y="782.8" width="93.6" height="22.3" fill="#9ac7e0"/>
<rect x="458.8" y="782.8" width="93.6" height="22.3" fill="#347bb9"/>
<rect x="551.9" y="782.8" width="93.6" height="22.3" fill="#d9e3ea"/>
<rect x="644.9" y="782.8" width="93.6" height="22.3" fill="#e0755f"/>
<rect x="738.0" y="782.8" width="93.6" height="22.3" fill="#f6dcce"/>
<rect x="831.0" y="782.8" width="93.6" height="22.3" fill="#f0a07f"/>
<rect x="924.0" y="782.8" width="93.6" height="22.3" fill="#f0a07f"/>
<rect x="1017.1" y="782.8" width="93.6" height="22.3" fill="#dbe3e8"/>
<rect x="1110.1" y="782.8" width="93.6" height="22.3" fill="#dde2e6"/>
<rect x="1203.2" y="782.8" width="93.6" height="22.3" fill="#ece0db"/>
<rect x="1296.2" y="782.8" width="93.6" height="22.3" fill="#d0e2ed"/>
<rect x="1389.3" y="782.8" width="93.0" height="22.3" fill="#fbd9c5"/>
<rect x="179.7" y="804.5" width="93.6" height="22.3" fill="#589fcb"/>
<rect x="272.7" y="804.5" width="93.6" height="22.3" fill="#fad4be"/>
<rect x="365.8" y="804.5" width="93.6" height="22.3" fill="#e3e1e0"/>
<rect x="458.8" y="804.5" width="93.6" height="22.3" fill="#71aed3"/>
<rect x="551.9" y="804.5" width="93.6" height="22.3" fill="#afd3e6"/>
<rect x="644.9" y="804.5" width="93.6" height="22.3" fill="#e7856c"/>
<rect x="738.0" y="804.5" width="93.6" height="22.3" fill="#efe0da"/>
<rect x="831.0" y="804.5" width="93.6" height="22.3" fill="#be2b33"/>
<rect x="924.0" y="804.5" width="93.6" height="22.3" fill="#fbd9c5"/>
<rect x="1017.1" y="804.5" width="93.6" height="22.3" fill="#8abddb"/>
<rect x="1110.1" y="804.5" width="93.6" height="22.3" fill="#dbe3e8"/>
<rect x="1203.2" y="804.5" width="93.6" height="22.3" fill="#c3ddeb"/>
<rect x="1296.2" y="804.5" width="93.6" height="22.3" fill="#f7bea4"/>
<rect x="1389.3" y="804.5" width="93.0" height="22.3" fill="#fadac8"/>
<rect x="179.7" y="826.2" width="93.6" height="22.3" fill="#d5e4ee"/>
<rect x="272.7" y="826.2" width="93.6" height="22.3" fill="#f8dbcb"/>
<rect x="365.8" y="826.2" width="93.6" height="22.3" fill="#b9d8e8"/>
<rect x="458.8" y="826.2" width="93.6" height="22.3" fill="#9ac7e0"/>
<rect x="551.9" y="826.2" width="93.6" height="22.3" fill="#8abddb"/>
<rect x="644.9" y="826.2" width="93.6" height="22.3" fill="#de6f5b"/>
<rect x="738.0" y="826.2" width="93.6" height="22.3" fill="#de6f5b"/>
<rect x="831.0" y="826.2" width="93.6" height="22.3" fill="#f3a989"/>
<rect x="924.0" y="826.2" width="93.6" height="22.3" fill="#de6f5b"/>
<rect x="1017.1" y="826.2" width="93.6" height="22.3" fill="#d5e4ee"/>
<rect x="1110.1" y="826.2" width="93.6" height="22.3" fill="#c3ddeb"/>
<rect x="1203.2" y="826.2" width="93.6" height="22.3" fill="#90c0dc"/>
<rect x="1296.2" y="826.2" width="93.6" height="22.3" fill="#b9d8e8"/>
<rect x="1389.3" y="826.2" width="93.0" height="22.3" fill="#d5e4ee"/>
<rect x="179.7" y="847.9" width="93.6" height="22.3" fill="#d0e2ed"/>
<rect x="272.7" y="847.9" width="93.6" height="22.3" fill="#bedaea"/>
<rect x="365.8" y="847.9" width="93.6" height="22.3" fill="#e8e1dc"/>
<rect x="458.8" y="847.9" width="93.6" height="22.3" fill="#b9d8e8"/>
<rect x="551.9" y="847.9" width="93.6" height="22.3" fill="#b9d8e8"/>
<rect x="644.9" y="847.9" width="93.6" height="22.3" fill="#da6554"/>
<rect x="738.0" y="847.9" width="93.6" height="22.3" fill="#f8c4ab"/>
<rect x="831.0" y="847.9" width="93.6" height="22.3" fill="#d5574a"/>
<rect x="924.0" y="847.9" width="93.6" height="22.3" fill="#d75c4d"/>
<rect x="1017.1" y="847.9" width="93.6" height="22.3" fill="#cce0ec"/>
<rect x="1110.1" y="847.9" width="93.6" height="22.3" fill="#b4d6e7"/>
<rect x="1203.2" y="847.9" width="93.6" height="22.3" fill="#afd3e6"/>
<rect x="1296.2" y="847.9" width="93.6" height="22.3" fill="#b9d8e8"/>
<rect x="1389.3" y="847.9" width="93.0" height="22.3" fill="#9ac7e0"/>
<rect x="179.7" y="869.6" width="93.6" height="22.3" fill="#bedaea"/>
<rect x="272.7" y="869.6" width="93.6" height="22.3" fill="#dfe2e4"/>
<rect x="365.8" y="869.6" width="93.6" height="22.3" fill="#e1e2e2"/>
<rect x="458.8" y="869.6" width="93.6" height="22.3" fill="#afd3e6"/>
<rect x="551.9" y="869.6" width="93.6" height="22.3" fill="#aad0e4"/>
<rect x="644.9" y="869.6" width="93.6" height="22.3" fill="#e27a63"/>
<rect x="738.0" y="869.6" width="93.6" height="22.3" fill="#e27a63"/>
<rect x="831.0" y="869.6" width="93.6" height="22.3" fill="#dc6a58"/>
<rect x="924.0" y="869.6" width="93.6" height="22.3" fill="#e27a63"/>
<rect x="1017.1" y="869.6" width="93.6" height="22.3" fill="#bedaea"/>
<rect x="1110.1" y="869.6" width="93.6" height="22.3" fill="#aad0e4"/>
<rect x="1203.2" y="869.6" width="93.6" height="22.3" fill="#a0cbe1"/>
<rect x="1296.2" y="869.6" width="93.6" height="22.3" fill="#afd3e6"/>
<rect x="1389.3" y="869.6" width="93.0" height="22.3" fill="#bedaea"/>
<rect x="179.7" y="891.3" width="93.6" height="22.3" fill="#bedaea"/>
<rect x="272.7" y="891.3" width="93.6" height="22.3" fill="#dfe2e4"/>
<rect x="365.8" y="891.3" width="93.6" height="22.3" fill="#d5e4ee"/>
<rect x="458.8" y="891.3" width="93.6" height="22.3" fill="#c8dfec"/>
<rect x="551.9" y="891.3" width="93.6" height="22.3" fill="#d9e3ea"/>
<rect x="644.9" y="891.3" width="93.6" height="22.3" fill="#e27a63"/>
<rect x="738.0" y="891.3" width="93.6" height="22.3" fill="#e27a63"/>
<rect x="831.0" y="891.3" width="93.6" height="22.3" fill="#dc6a58"/>
<rect x="924.0" y="891.3" width="93.6" height="22.3" fill="#e27a63"/>
<rect x="1017.1" y="891.3" width="93.6" height="22.3" fill="#8abddb"/>
<rect x="1110.1" y="891.3" width="93.6" height="22.3" fill="#bedaea"/>
<rect x="1203.2" y="891.3" width="93.6" height="22.3" fill="#a5cee3"/>
<rect x="1296.2" y="891.3" width="93.6" height="22.3" fill="#c8dfec"/>
<rect x="1389.3" y="891.3" width="93.0" height="22.3" fill="#9ac7e0"/>
<rect x="179.7" y="913.0" width="93.6" height="22.3" fill="#5099c9"/>
<rect x="272.7" y="913.0" width="93.6" height="22.3" fill="#cce0ec"/>
<rect x="365.8" y="913.0" width="93.6" height="22.3" fill="#c8dfec"/>
<rect x="458.8" y="913.0" width="93.6" height="22.3" fill="#69a9d0"/>
<rect x="551.9" y="913.0" width="93.6" height="22.3" fill="#dde2e6"/>
<rect x="644.9" y="913.0" width="93.6" height="22.3" fill="#ea8f73"/>
<rect x="738.0" y="913.0" width="93.6" height="22.3" fill="#e58068"/>
<rect x="831.0" y="913.0" width="93.6" height="22.3" fill="#dc6a58"/>
<rect x="924.0" y="913.0" width="93.6" height="22.3" fill="#f2a482"/>
<rect x="1017.1" y="913.0" width="93.6" height="22.3" fill="#f2e0d8"/>
<rect x="1110.1" y="913.0" width="93.6" height="22.3" fill="#8abddb"/>
<rect x="1203.2" y="913.0" width="93.6" height="22.3" fill="#f8dbcb"/>
<rect x="1296.2" y="913.0" width="93.6" height="22.3" fill="#c8dfec"/>
<rect x="1389.3" y="913.0" width="93.0" height="22.3" fill="#f2e0d8"/>
<rect x="179.7" y="934.7" width="93.6" height="22.3" fill="#a0cbe1"/>
<rect x="272.7" y="934.7" width="93.6" height="22.3" fill="#d0e2ed"/>
<rect x="365.8" y="934.7" width="93.6" height="22.3" fill="#9ac7e0"/>
<rect x="458.8" y="934.7" width="93.6" height="22.3" fill="#a0cbe1"/>
<rect x="551.9" y="934.7" width="93.6" height="22.3" fill="#a0cbe1"/>
<rect x="644.9" y="934.7" width="93.6" height="22.3" fill="#e0755f"/>
<rect x="738.0" y="934.7" width="93.6" height="22.3" fill="#e58068"/>
<rect x="831.0" y="934.7" width="93.6" height="22.3" fill="#da6554"/>
<rect x="924.0" y="934.7" width="93.6" height="22.3" fill="#e27a63"/>
<rect x="1017.1" y="934.7" width="93.6" height="22.3" fill="#b9d8e8"/>
<rect x="1110.1" y="934.7" width="93.6" height="22.3" fill="#d0e2ed"/>
<rect x="1203.2" y="934.7" width="93.6" height="22.3" fill="#ece0db"/>
<rect x="1296.2" y="934.7" width="93.6" height="22.3" fill="#dfe2e4"/>
<rect x="1389.3" y="934.7" width="93.0" height="22.3" fill="#c8dfec"/>
<rect x="179.7" y="956.4" width="93.6" height="22.3" fill="#589fcb"/>
<rect x="272.7" y="956.4" width="93.6" height="22.3" fill="#d7e4ec"/>
<rect x="365.8" y="956.4" width="93.6" height="22.3" fill="#cce0ec"/>
<rect x="458.8" y="956.4" width="93.6" height="22.3" fill="#a0cbe1"/>
<rect x="551.9" y="956.4" width="93.6" height="22.3" fill="#b4d6e7"/>
<rect x="644.9" y="956.4" width="93.6" height="22.3" fill="#e27a63"/>
<rect x="738.0" y="956.4" width="93.6" height="22.3" fill="#e27a63"/>
<rect x="831.0" y="956.4" width="93.6" height="22.3" fill="#dc6a58"/>
<rect x="924.0" y="956.4" width="93.6" height="22.3" fill="#e27a63"/>
<rect x="1017.1" y="956.4" width="93.6" height="22.3" fill="#cce0ec"/>
<rect x="1110.1" y="956.4" width="93.6" height="22.3" fill="#cce0ec"/>
<rect x="1203.2" y="956.4" width="93.6" height="22.3" fill="#b9d8e8"/>
<rect x="1296.2" y="956.4" width="93.6" height="22.3" fill="#f2e0d8"/>
<rect x="1389.3" y="956.4" width="93.0" height="22.3" fill="#aad0e4"/>
<rect x="179.7" y="978.1" width="93.6" height="22.3" fill="#7fb6d8"/>
<rect x="272.7" y="978.1" width="93.6" height="22.3" fill="#f2e0d8"/>
<rect x="365.8" y="978.1" width="93.6" height="22.3" fill="#cce0ec"/>
<rect x="458.8" y="978.1" width="93.6" height="22.3" fill="#fadac8"/>
<rect x="551.9" y="978.1" width="93.6" height="22.3" fill="#f8c9b2"/>
<rect x="644.9" y="978.1" width="93.6" height="22.3" fill="#c8dfec"/>
<rect x="738.0" y="978.1" width="93.6" height="22.3" fill="#dfe2e4"/>
<rect x="831.0" y="978.1" width="93.6" height="22.3" fill="#3e8ac2"/>
<rect x="924.0" y="978.1" width="93.6" height="22.3" fill="#69a9d0"/>
<rect x="1017.1" y="978.1" width="93.6" height="22.3" fill="#dc6a58"/>
<rect x="1110.1" y="978.1" width="93.6" height="22.3" fill="#f5ded2"/>
<rect x="1203.2" y="978.1" width="93.6" height="22.3" fill="#f6dcce"/>
<rect x="1296.2" y="978.1" width="93.6" height="22.3" fill="#e98b70"/>
<rect x="1389.3" y="978.1" width="93.0" height="22.3" fill="#ef9c7c"/>
<rect x="179.7" y="999.8" width="93.6" height="22.3" fill="#2a69ae"/>
<rect x="272.7" y="999.8" width="93.6" height="22.3" fill="#a0cbe1"/>
<rect x="365.8" y="999.8" width="93.6" height="22.3" fill="#f4dfd5"/>
<rect x="458.8" y="999.8" width="93.6" height="22.3" fill="#f5b497"/>
<rect x="551.9" y="999.8" width="93.6" height="22.3" fill="#f8dbcb"/>
<rect x="644.9" y="999.8" width="93.6" height="22.3" fill="#d5e4ee"/>
<rect x="738.0" y="999.8" width="93.6" height="22.3" fill="#afd3e6"/>
<rect x="831.0" y="999.8" width="93.6" height="22.3" fill="#90c0dc"/>
<rect x="924.0" y="999.8" width="93.6" height="22.3" fill="#ece0db"/>
<rect x="1017.1" y="999.8" width="93.6" height="22.3" fill="#f8c4ab"/>
<rect x="1110.1" y="999.8" width="93.6" height="22.3" fill="#f8c4ab"/>
<rect x="1203.2" y="999.8" width="93.6" height="22.3" fill="#f5b497"/>
<rect x="1296.2" y="999.8" width="93.6" height="22.3" fill="#f2a482"/>
<rect x="1389.3" y="999.8" width="93.0" height="22.3" fill="#f2a482"/>
<rect x="179.7" y="1021.5" width="93.6" height="22.3" fill="#408ec4"/>
<rect x="272.7" y="1021.5" width="93.6" height="22.3" fill="#efe0da"/>
<rect x="365.8" y="1021.5" width="93.6" height="22.3" fill="#f5ded2"/>
<rect x="458.8" y="1021.5" width="93.6" height="22.3" fill="#ef9c7c"/>
<rect x="551.9" y="1021.5" width="93.6" height="22.3" fill="#f8c9b2"/>
<rect x="644.9" y="1021.5" width="93.6" height="22.3" fill="#a5cee3"/>
<rect x="738.0" y="1021.5" width="93.6" height="22.3" fill="#a0cbe1"/>
<rect x="831.0" y="1021.5" width="93.6" height="22.3" fill="#408ec4"/>
<rect x="924.0" y="1021.5" width="93.6" height="22.3" fill="#c3ddeb"/>
<rect x="1017.1" y="1021.5" width="93.6" height="22.3" fill="#ef9c7c"/>
<rect x="1110.1" y="1021.5" width="93.6" height="22.3" fill="#fadac8"/>
<rect x="1203.2" y="1021.5" width="93.6" height="22.3" fill="#f5b497"/>
<rect x="1296.2" y="1021.5" width="93.6" height="22.3" fill="#ee9879"/>
<rect x="1389.3" y="1021.5" width="93.0" height="22.3" fill="#f5ded2"/>
<rect x="179.7" y="1043.3" width="93.6" height="22.3" fill="#589fcb"/>
<rect x="272.7" y="1043.3" width="93.6" height="22.3" fill="#e1e2e2"/>
<rect x="365.8" y="1043.3" width="93.6" height="22.3" fill="#dde2e6"/>
<rect x="458.8" y="1043.3" width="93.6" height="22.3" fill="#f6b99e"/>
<rect x="551.9" y="1043.3" width="93.6" height="22.3" fill="#fad4be"/>
<rect x="644.9" y="1043.3" width="93.6" height="22.3" fill="#9ac7e0"/>
<rect x="738.0" y="1043.3" width="93.6" height="22.3" fill="#90c0dc"/>
<rect x="831.0" y="1043.3" width="93.6" height="22.3" fill="#69a9d0"/>
<rect x="924.0" y="1043.3" width="93.6" height="22.3" fill="#90c0dc"/>
<rect x="1017.1" y="1043.3" width="93.6" height="22.3" fill="#f2a482"/>
<rect x="1110.1" y="1043.3" width="93.6" height="22.3" fill="#f9ceb8"/>
<rect x="1203.2" y="1043.3" width="93.6" height="22.3" fill="#f3a989"/>
<rect x="1296.2" y="1043.3" width="93.6" height="22.3" fill="#ec9376"/>
<rect x="1389.3" y="1043.3" width="93.0" height="22.3" fill="#ec9376"/>
<rect x="179.7" y="1065.0" width="93.6" height="22.3" fill="#4491c5"/>
<rect x="272.7" y="1065.0" width="93.6" height="22.3" fill="#d9e3ea"/>
<rect x="365.8" y="1065.0" width="93.6" height="22.3" fill="#d9e3ea"/>
<rect x="458.8" y="1065.0" width="93.6" height="22.3" fill="#f7bea4"/>
<rect x="551.9" y="1065.0" width="93.6" height="22.3" fill="#f5ded2"/>
<rect x="644.9" y="1065.0" width="93.6" height="22.3" fill="#a5cee3"/>
<rect x="738.0" y="1065.0" width="93.6" height="22.3" fill="#a5cee3"/>
<rect x="831.0" y="1065.0" width="93.6" height="22.3" fill="#9ac7e0"/>
<rect x="924.0" y="1065.0" width="93.6" height="22.3" fill="#90c0dc"/>
<rect x="1017.1" y="1065.0" width="93.6" height="22.3" fill="#f5b497"/>
<rect x="1110.1" y="1065.0" width="93.6" height="22.3" fill="#f8c4ab"/>
<rect x="1203.2" y="1065.0" width="93.6" height="22.3" fill="#f2a482"/>
<rect x="1296.2" y="1065.0" width="93.6" height="22.3" fill="#e98b70"/>
<rect x="1389.3" y="1065.0" width="93.0" height="22.3" fill="#e98b70"/>
<rect x="179.7" y="1086.7" width="93.6" height="22.3" fill="#3178b7"/>
<rect x="272.7" y="1086.7" width="93.6" height="22.3" fill="#7ab3d6"/>
<rect x="365.8" y="1086.7" width="93.6" height="22.3" fill="#8abddb"/>
<rect x="458.8" y="1086.7" width="93.6" height="22.3" fill="#a0cbe1"/>
<rect x="551.9" y="1086.7" width="93.6" height="22.3" fill="#afd3e6"/>
<rect x="644.9" y="1086.7" width="93.6" height="22.3" fill="#fad4be"/>
<rect x="738.0" y="1086.7" width="93.6" height="22.3" fill="#fbd9c5"/>
<rect x="831.0" y="1086.7" width="93.6" height="22.3" fill="#f8c4ab"/>
<rect x="924.0" y="1086.7" width="93.6" height="22.3" fill="#fad4be"/>
<rect x="1017.1" y="1086.7" width="93.6" height="22.3" fill="#f4ae90"/>
<rect x="1110.1" y="1086.7" width="93.6" height="22.3" fill="#f9ceb8"/>
<rect x="1203.2" y="1086.7" width="93.6" height="22.3" fill="#f2a482"/>
<rect x="1296.2" y="1086.7" width="93.6" height="22.3" fill="#f6b99e"/>
<rect x="1389.3" y="1086.7" width="93.0" height="22.3" fill="#f8c4ab"/>
<rect x="179.7" y="1108.4" width="93.6" height="22.3" fill="#3178b7"/>
<rect x="272.7" y="1108.4" width="93.6" height="22.3" fill="#61a4ce"/>
<rect x="365.8" y="1108.4" width="93.6" height="22.3" fill="#95c4de"/>
<rect x="458.8" y="1108.4" width="93.6" height="22.3" fill="#a0cbe1"/>
<rect x="551.9" y="1108.4" width="93.6" height="22.3" fill="#d9e3ea"/>
<rect x="644.9" y="1108.4" width="93.6" height="22.3" fill="#fad4be"/>
<rect x="738.0" y="1108.4" width="93.6" height="22.3" fill="#fbd9c5"/>
<rect x="831.0" y="1108.4" width="93.6" height="22.3" fill="#f5b497"/>
<rect x="924.0" y="1108.4" width="93.6" height="22.3" fill="#fad4be"/>
<rect x="1017.1" y="1108.4" width="93.6" height="22.3" fill="#f8dbcb"/>
<rect x="1110.1" y="1108.4" width="93.6" height="22.3" fill="#f7bea4"/>
<rect x="1203.2" y="1108.4" width="93.6" height="22.3" fill="#f0a07f"/>
<rect x="1296.2" y="1108.4" width="93.6" height="22.3" fill="#f9ceb8"/>
<rect x="1389.3" y="1108.4" width="93.0" height="22.3" fill="#f6b99e"/>
<rect x="179.7" y="1130.1" width="93.6" height="22.3" fill="#3178b7"/>
<rect x="272.7" y="1130.1" width="93.6" height="22.3" fill="#7fb6d8"/>
<rect x="365.8" y="1130.1" width="93.6" height="22.3" fill="#95c4de"/>
<rect x="458.8" y="1130.1" width="93.6" height="22.3" fill="#aad0e4"/>
<rect x="551.9" y="1130.1" width="93.6" height="22.3" fill="#9ac7e0"/>
<rect x="644.9" y="1130.1" width="93.6" height="22.3" fill="#f6b99e"/>
<rect x="738.0" y="1130.1" width="93.6" height="22.3" fill="#f7bea4"/>
<rect x="831.0" y="1130.1" width="93.6" height="22.3" fill="#f5b497"/>
<rect x="924.0" y="1130.1" width="93.6" height="22.3" fill="#f7bea4"/>
<rect x="1017.1" y="1130.1" width="93.6" height="22.3" fill="#f5ded2"/>
<rect x="1110.1" y="1130.1" width="93.6" height="22.3" fill="#fad4be"/>
<rect x="1203.2" y="1130.1" width="93.6" height="22.3" fill="#f2a482"/>
<rect x="1296.2" y="1130.1" width="93.6" height="22.3" fill="#f9ceb8"/>
<rect x="1389.3" y="1130.1" width="93.0" height="22.3" fill="#f9ceb8"/>
<rect x="179.7" y="1151.8" width="93.6" height="22.3" fill="#2c70b3"/>
<rect x="272.7" y="1151.8" width="93.6" height="22.3" fill="#afd3e6"/>
<rect x="365.8" y="1151.8" width="93.6" height="22.3" fill="#69a9d0"/>
<rect x="458.8" y="1151.8" width="93.6" height="22.3" fill="#a5cee3"/>
<rect x="551.9" y="1151.8" width="93.6" height="22.3" fill="#b9d8e8"/>
<rect x="644.9" y="1151.8" width="93.6" height="22.3" fill="#f8c9b2"/>
<rect x="738.0" y="1151.8" width="93.6" height="22.3" fill="#f4ae90"/>
<rect x="831.0" y="1151.8" width="93.6" height="22.3" fill="#f2a482"/>
<rect x="924.0" y="1151.8" width="93.6" height="22.3" fill="#f8c4ab"/>
<rect x="1017.1" y="1151.8" width="93.6" height="22.3" fill="#fadac8"/>
<rect x="1110.1" y="1151.8" width="93.6" height="22.3" fill="#f8dbcb"/>
<rect x="1203.2" y="1151.8" width="93.6" height="22.3" fill="#f2a482"/>
<rect x="1296.2" y="1151.8" width="93.6" height="22.3" fill="#f5ded2"/>
<rect x="1389.3" y="1151.8" width="93.0" height="22.3" fill="#fbd9c5"/>
<rect x="179.7" y="1173.5" width="93.6" height="22.3" fill="#4491c5"/>
<rect x="272.7" y="1173.5" width="93.6" height="22.3" fill="#2a69ae"/>
<rect x="365.8" y="1173.5" width="93.6" height="22.3" fill="#7ab3d6"/>
<rect x="458.8" y="1173.5" width="93.6" height="22.3" fill="#fadac8"/>
<rect x="551.9" y="1173.5" width="93.6" height="22.3" fill="#f8dbcb"/>
<rect x="644.9" y="1173.5" width="93.6" height="22.3" fill="#f4dfd5"/>
<rect x="738.0" y="1173.5" width="93.6" height="22.3" fill="#fadac8"/>
<rect x="831.0" y="1173.5" width="93.6" height="22.3" fill="#fad4be"/>
<rect x="924.0" y="1173.5" width="93.6" height="22.3" fill="#f3a989"/>
<rect x="1017.1" y="1173.5" width="93.6" height="22.3" fill="#fadac8"/>
<rect x="1110.1" y="1173.5" width="93.6" height="22.3" fill="#f9ceb8"/>
<rect x="1203.2" y="1173.5" width="93.6" height="22.3" fill="#f3a989"/>
<rect x="1296.2" y="1173.5" width="93.6" height="22.3" fill="#fad4be"/>
<rect x="1389.3" y="1173.5" width="93.0" height="22.3" fill="#efe0da"/>
<rect x="179.7" y="1195.2" width="93.6" height="22.3" fill="#71aed3"/>
<rect x="272.7" y="1195.2" width="93.6" height="22.3" fill="#71aed3"/>
<rect x="365.8" y="1195.2" width="93.6" height="22.3" fill="#408ec4"/>
<rect x="458.8" y="1195.2" width="93.6" height="22.3" fill="#7fb6d8"/>
<rect x="551.9" y="1195.2" width="93.6" height="22.3" fill="#e5e1de"/>
<rect x="644.9" y="1195.2" width="93.6" height="22.3" fill="#f2e0d8"/>
<rect x="738.0" y="1195.2" width="93.6" height="22.3" fill="#f7bea4"/>
<rect x="831.0" y="1195.2" width="93.6" height="22.3" fill="#f8c4ab"/>
<rect x="924.0" y="1195.2" width="93.6" height="22.3" fill="#f8dbcb"/>
<rect x="1017.1" y="1195.2" width="93.6" height="22.3" fill="#dfe2e4"/>
<rect x="1110.1" y="1195.2" width="93.6" height="22.3" fill="#f7bea4"/>
<rect x="1203.2" y="1195.2" width="93.6" height="22.3" fill="#f2a482"/>
<rect x="1296.2" y="1195.2" width="93.6" height="22.3" fill="#f8c9b2"/>
<rect x="1389.3" y="1195.2" width="93.0" height="22.3" fill="#dc6a58"/>
<rect x="179.7" y="1216.9" width="93.6" height="22.3" fill="#3178b7"/>
<rect x="272.7" y="1216.9" width="93.6" height="22.3" fill="#3b86c0"/>
<rect x="365.8" y="1216.9" width="93.6" height="22.3" fill="#a5cee3"/>
<rect x="458.8" y="1216.9" width="93.6" height="22.3" fill="#e3e1e0"/>
<rect x="551.9" y="1216.9" width="93.6" height="22.3" fill="#e1e2e2"/>
<rect x="644.9" y="1216.9" width="93.6" height="22.3" fill="#f8c4ab"/>
<rect x="738.0" y="1216.9" width="93.6" height="22.3" fill="#fad4be"/>
<rect x="831.0" y="1216.9" width="93.6" height="22.3" fill="#f6dcce"/>
<rect x="924.0" y="1216.9" width="93.6" height="22.3" fill="#e5e1de"/>
<rect x="1017.1" y="1216.9" width="93.6" height="22.3" fill="#f5ded2"/>
<rect x="1110.1" y="1216.9" width="93.6" height="22.3" fill="#f5b497"/>
<rect x="1203.2" y="1216.9" width="93.6" height="22.3" fill="#f5ded2"/>
<rect x="1296.2" y="1216.9" width="93.6" height="22.3" fill="#ec9376"/>
<rect x="1389.3" y="1216.9" width="93.0" height="22.3" fill="#e98b70"/>
<rect x="179.7" y="1238.6" width="93.6" height="22.3" fill="#549cca"/>
<rect x="272.7" y="1238.6" width="93.6" height="22.3" fill="#aad0e4"/>
<rect x="365.8" y="1238.6" width="93.6" height="22.3" fill="#2a69ae"/>
<rect x="458.8" y="1238.6" width="93.6" height="22.3" fill="#dfe2e4"/>
<rect x="551.9" y="1238.6" width="93.6" height="22.3" fill="#ece0db"/>
<rect x="644.9" y="1238.6" width="93.6" height="22.3" fill="#f8c4ab"/>
<rect x="738.0" y="1238.6" width="93.6" height="22.3" fill="#d0e2ed"/>
<rect x="831.0" y="1238.6" width="93.6" height="22.3" fill="#f6dcce"/>
<rect x="924.0" y="1238.6" width="93.6" height="22.3" fill="#e8e1dc"/>
<rect x="1017.1" y="1238.6" width="93.6" height="22.3" fill="#f5ded2"/>
<rect x="1110.1" y="1238.6" width="93.6" height="22.3" fill="#f6b99e"/>
<rect x="1203.2" y="1238.6" width="93.6" height="22.3" fill="#f6b99e"/>
<rect x="1296.2" y="1238.6" width="93.6" height="22.3" fill="#e58068"/>
<rect x="1389.3" y="1238.6" width="93.0" height="22.3" fill="#ec9376"/>
<rect x="179.7" y="1260.3" width="93.6" height="22.3" fill="#4491c5"/>
<rect x="272.7" y="1260.3" width="93.6" height="22.3" fill="#c3ddeb"/>
<rect x="365.8" y="1260.3" width="93.6" height="22.3" fill="#a0cbe1"/>
<rect x="458.8" y="1260.3" width="93.6" height="22.3" fill="#c3ddeb"/>
<rect x="551.9" y="1260.3" width="93.6" height="22.3" fill="#d5e4ee"/>
<rect x="644.9" y="1260.3" width="93.6" height="22.3" fill="#f8c4ab"/>
<rect x="738.0" y="1260.3" width="93.6" height="22.3" fill="#fad4be"/>
<rect x="831.0" y="1260.3" width="93.6" height="22.3" fill="#efe0da"/>
<rect x="924.0" y="1260.3" width="93.6" height="22.3" fill="#c8dfec"/>
<rect x="1017.1" y="1260.3" width="93.6" height="22.3" fill="#801426"/>
<rect x="1110.1" y="1260.3" width="93.6" height="22.3" fill="#d5e4ee"/>
<rect x="1203.2" y="1260.3" width="93.6" height="22.3" fill="#f2e0d8"/>
<rect x="1296.2" y="1260.3" width="93.6" height="22.3" fill="#f8c9b2"/>
<rect x="1389.3" y="1260.3" width="93.0" height="22.3" fill="#f5ded2"/>
<rect x="179.7" y="1282.0" width="93.6" height="22.3" fill="#8abddb"/>
<rect x="272.7" y="1282.0" width="93.6" height="22.3" fill="#8abddb"/>
<rect x="365.8" y="1282.0" width="93.6" height="22.3" fill="#61a4ce"/>
<rect x="458.8" y="1282.0" width="93.6" height="22.3" fill="#c3ddeb"/>
<rect x="551.9" y="1282.0" width="93.6" height="22.3" fill="#4894c6"/>
<rect x="644.9" y="1282.0" width="93.6" height="22.3" fill="#f8c9b2"/>
<rect x="738.0" y="1282.0" width="93.6" height="22.3" fill="#f5b497"/>
<rect x="831.0" y="1282.0" width="93.6" height="22.3" fill="#f8c4ab"/>
<rect x="924.0" y="1282.0" width="93.6" height="22.3" fill="#fbd9c5"/>
<rect x="1017.1" y="1282.0" width="93.6" height="22.3" fill="#f7bea4"/>
<rect x="1110.1" y="1282.0" width="93.6" height="22.3" fill="#f6b99e"/>
<rect x="1203.2" y="1282.0" width="93.6" height="22.3" fill="#d5e4ee"/>
<rect x="1296.2" y="1282.0" width="93.6" height="22.3" fill="#f5b497"/>
<rect x="1389.3" y="1282.0" width="93.0" height="22.3" fill="#e58068"/>
<rect x="179.7" y="1303.7" width="93.6" height="22.3" fill="#408ec4"/>
<rect x="272.7" y="1303.7" width="93.6" height="22.3" fill="#a0cbe1"/>
<rect x="365.8" y="1303.7" width="93.6" height="22.3" fill="#7fb6d8"/>
<rect x="458.8" y="1303.7" width="93.6" height="22.3" fill="#d9e3ea"/>
<rect x="551.9" y="1303.7" width="93.6" height="22.3" fill="#549cca"/>
<rect x="644.9" y="1303.7" width="93.6" height="22.3" fill="#fadac8"/>
<rect x="738.0" y="1303.7" width="93.6" height="22.3" fill="#fad4be"/>
<rect x="831.0" y="1303.7" width="93.6" height="22.3" fill="#e8e1dc"/>
<rect x="924.0" y="1303.7" width="93.6" height="22.3" fill="#f9ceb8"/>
<rect x="1017.1" y="1303.7" width="93.6" height="22.3" fill="#cc4640"/>
<rect x="1110.1" y="1303.7" width="93.6" height="22.3" fill="#f6b99e"/>
<rect x="1203.2" y="1303.7" width="93.6" height="22.3" fill="#f6b99e"/>
<rect x="1296.2" y="1303.7" width="93.6" height="22.3" fill="#fadac8"/>
<rect x="1389.3" y="1303.7" width="93.0" height="22.3" fill="#f5ded2"/>
<rect x="179.7" y="1325.4" width="93.6" height="22.3" fill="#2a69ae"/>
<rect x="272.7" y="1325.4" width="93.6" height="22.3" fill="#d9e3ea"/>
<rect x="365.8" y="1325.4" width="93.6" height="22.3" fill="#71aed3"/>
<rect x="458.8" y="1325.4" width="93.6" height="22.3" fill="#b9d8e8"/>
<rect x="551.9" y="1325.4" width="93.6" height="22.3" fill="#afd3e6"/>
<rect x="644.9" y="1325.4" width="93.6" height="22.3" fill="#ee9879"/>
<rect x="738.0" y="1325.4" width="93.6" height="22.3" fill="#f8c9b2"/>
<rect x="831.0" y="1325.4" width="93.6" height="22.3" fill="#f5ded2"/>
<rect x="924.0" y="1325.4" width="93.6" height="22.3" fill="#f8c4ab"/>
<rect x="1017.1" y="1325.4" width="93.6" height="22.3" fill="#e98b70"/>
<rect x="1110.1" y="1325.4" width="93.6" height="22.3" fill="#ece0db"/>
<rect x="1203.2" y="1325.4" width="93.6" height="22.3" fill="#f5ded2"/>
<rect x="1296.2" y="1325.4" width="93.6" height="22.3" fill="#fadac8"/>
<rect x="1389.3" y="1325.4" width="93.0" height="22.3" fill="#f5b497"/>
<rect x="179.7" y="1347.1" width="93.6" height="22.3" fill="#8abddb"/>
<rect x="272.7" y="1347.1" width="93.6" height="22.3" fill="#aad0e4"/>
<rect x="365.8" y="1347.1" width="93.6" height="22.3" fill="#f5ded2"/>
<rect x="458.8" y="1347.1" width="93.6" height="22.3" fill="#90c0dc"/>
<rect x="551.9" y="1347.1" width="93.6" height="22.3" fill="#d5e4ee"/>
<rect x="644.9" y="1347.1" width="93.6" height="22.3" fill="#f9ceb8"/>
<rect x="738.0" y="1347.1" width="93.6" height="22.3" fill="#9ac7e0"/>
<rect x="831.0" y="1347.1" width="93.6" height="22.3" fill="#9ac7e0"/>
<rect x="924.0" y="1347.1" width="93.6" height="22.3" fill="#dde2e6"/>
<rect x="1017.1" y="1347.1" width="93.6" height="22.3" fill="#e27a63"/>
<rect x="1110.1" y="1347.1" width="93.6" height="22.3" fill="#c33538"/>
<rect x="1203.2" y="1347.1" width="93.6" height="22.3" fill="#f8c9b2"/>
<rect x="1296.2" y="1347.1" width="93.6" height="22.3" fill="#f8c4ab"/>
<rect x="1389.3" y="1347.1" width="93.0" height="22.3" fill="#efe0da"/>
<rect x="179.7" y="1368.8" width="93.6" height="22.3" fill="#4894c6"/>
<rect x="272.7" y="1368.8" width="93.6" height="22.3" fill="#aad0e4"/>
<rect x="365.8" y="1368.8" width="93.6" height="22.3" fill="#afd3e6"/>
<rect x="458.8" y="1368.8" width="93.6" height="22.3" fill="#9ac7e0"/>
<rect x="551.9" y="1368.8" width="93.6" height="22.3" fill="#b9d8e8"/>
<rect x="644.9" y="1368.8" width="93.6" height="22.3" fill="#ee9879"/>
<rect x="738.0" y="1368.8" width="93.6" height="22.3" fill="#fbd9c5"/>
<rect x="831.0" y="1368.8" width="93.6" height="22.3" fill="#e8e1dc"/>
<rect x="924.0" y="1368.8" width="93.6" height="22.3" fill="#dfe2e4"/>
<rect x="1017.1" y="1368.8" width="93.6" height="22.3" fill="#f8dbcb"/>
<rect x="1110.1" y="1368.8" width="93.6" height="22.3" fill="#b8202e"/>
<rect x="1203.2" y="1368.8" width="93.6" height="22.3" fill="#fad4be"/>
<rect x="1296.2" y="1368.8" width="93.6" height="22.3" fill="#efe0da"/>
<rect x="1389.3" y="1368.8" width="93.0" height="22.3" fill="#fad4be"/>
<rect x="179.7" y="1390.5" width="93.6" height="22.3" fill="#2862a9"/>
<rect x="272.7" y="1390.5" width="93.6" height="22.3" fill="#e3e1e0"/>
<rect x="365.8" y="1390.5" width="93.6" height="22.3" fill="#a5cee3"/>
<rect x="458.8" y="1390.5" width="93.6" height="22.3" fill="#9ac7e0"/>
<rect x="551.9" y="1390.5" width="93.6" height="22.3" fill="#b9d8e8"/>
<rect x="644.9" y="1390.5" width="93.6" height="22.3" fill="#da6554"/>
<rect x="738.0" y="1390.5" width="93.6" height="22.3" fill="#f6dcce"/>
<rect x="831.0" y="1390.5" width="93.6" height="22.3" fill="#e8e1dc"/>
<rect x="924.0" y="1390.5" width="93.6" height="22.3" fill="#fad4be"/>
<rect x="1017.1" y="1390.5" width="93.6" height="22.3" fill="#fbd9c5"/>
<rect x="1110.1" y="1390.5" width="93.6" height="22.3" fill="#f2a482"/>
<rect x="1203.2" y="1390.5" width="93.6" height="22.3" fill="#f8dbcb"/>
<rect x="1296.2" y="1390.5" width="93.6" height="22.3" fill="#fbd9c5"/>
<rect x="1389.3" y="1390.5" width="93.0" height="22.3" fill="#fbd9c5"/>
<rect x="179.7" y="1412.2" width="93.6" height="22.3" fill="#2b6db0"/>
<rect x="272.7" y="1412.2" width="93.6" height="22.3" fill="#9ac7e0"/>
<rect x="365.8" y="1412.2" width="93.6" height="22.3" fill="#b4d6e7"/>
<rect x="458.8" y="1412.2" width="93.6" height="22.3" fill="#aad0e4"/>
<rect x="551.9" y="1412.2" width="93.6" height="22.3" fill="#e3e1e0"/>
<rect x="644.9" y="1412.2" width="93.6" height="22.3" fill="#d75c4d"/>
<rect x="738.0" y="1412.2" width="93.6" height="22.3" fill="#fad4be"/>
<rect x="831.0" y="1412.2" width="93.6" height="22.3" fill="#f2e0d8"/>
<rect x="924.0" y="1412.2" width="93.6" height="22.3" fill="#f3a989"/>
<rect x="1017.1" y="1412.2" width="93.6" height="22.3" fill="#f8dbcb"/>
<rect x="1110.1" y="1412.2" width="93.6" height="22.3" fill="#f0a07f"/>
<rect x="1203.2" y="1412.2" width="93.6" height="22.3" fill="#f8c4ab"/>
<rect x="1296.2" y="1412.2" width="93.6" height="22.3" fill="#e5e1de"/>
<rect x="1389.3" y="1412.2" width="93.0" height="22.3" fill="#d0e2ed"/>
<rect x="179.7" y="1433.9" width="93.6" height="22.3" fill="#7ab3d6"/>
<rect x="272.7" y="1433.9" width="93.6" height="22.3" fill="#dde2e6"/>
<rect x="365.8" y="1433.9" width="93.6" height="22.3" fill="#a0cbe1"/>
<rect x="458.8" y="1433.9" width="93.6" height="22.3" fill="#5099c9"/>
<rect x="551.9" y="1433.9" width="93.6" height="22.3" fill="#85bad9"/>
<rect x="644.9" y="1433.9" width="93.6" height="22.3" fill="#f8c9b2"/>
<rect x="738.0" y="1433.9" width="93.6" height="22.3" fill="#c3ddeb"/>
<rect x="831.0" y="1433.9" width="93.6" height="22.3" fill="#f7bea4"/>
<rect x="924.0" y="1433.9" width="93.6" height="22.3" fill="#f2e0d8"/>
<rect x="1017.1" y="1433.9" width="93.6" height="22.3" fill="#efe0da"/>
<rect x="1110.1" y="1433.9" width="93.6" height="22.3" fill="#ee9879"/>
<rect x="1203.2" y="1433.9" width="93.6" height="22.3" fill="#f2a482"/>
<rect x="1296.2" y="1433.9" width="93.6" height="22.3" fill="#e0755f"/>
<rect x="1389.3" y="1433.9" width="93.0" height="22.3" fill="#f8c4ab"/>
<rect x="179.7" y="1455.6" width="93.6" height="22.3" fill="#549cca"/>
<rect x="272.7" y="1455.6" width="93.6" height="22.3" fill="#d3e3ee"/>
<rect x="365.8" y="1455.6" width="93.6" height="22.3" fill="#4894c6"/>
<rect x="458.8" y="1455.6" width="93.6" height="22.3" fill="#7ab3d6"/>
<rect x="551.9" y="1455.6" width="93.6" height="22.3" fill="#a0cbe1"/>
<rect x="644.9" y="1455.6" width="93.6" height="22.3" fill="#f8dbcb"/>
<rect x="738.0" y="1455.6" width="93.6" height="22.3" fill="#f5ded2"/>
<rect x="831.0" y="1455.6" width="93.6" height="22.3" fill="#f7bea4"/>
<rect x="924.0" y="1455.6" width="93.6" height="22.3" fill="#fad4be"/>
<rect x="1017.1" y="1455.6" width="93.6" height="22.3" fill="#dfe2e4"/>
<rect x="1110.1" y="1455.6" width="93.6" height="22.3" fill="#f5b497"/>
<rect x="1203.2" y="1455.6" width="93.6" height="22.3" fill="#f5b497"/>
<rect x="1296.2" y="1455.6" width="93.6" height="22.3" fill="#e98b70"/>
<rect x="1389.3" y="1455.6" width="93.0" height="22.3" fill="#ea8f73"/>
<rect x="179.7" y="1477.3" width="93.6" height="22.3" fill="#549cca"/>
<rect x="272.7" y="1477.3" width="93.6" height="22.3" fill="#d5e4ee"/>
<rect x="365.8" y="1477.3" width="93.6" height="22.3" fill="#4894c6"/>
<rect x="458.8" y="1477.3" width="93.6" height="22.3" fill="#69a9d0"/>
<rect x="551.9" y="1477.3" width="93.6" height="22.3" fill="#a0cbe1"/>
<rect x="644.9" y="1477.3" width="93.6" height="22.3" fill="#f8dbcb"/>
<rect x="738.0" y="1477.3" width="93.6" height="22.3" fill="#f5ded2"/>
<rect x="831.0" y="1477.3" width="93.6" height="22.3" fill="#f7bea4"/>
<rect x="924.0" y="1477.3" width="93.6" height="22.3" fill="#fbd9c5"/>
<rect x="1017.1" y="1477.3" width="93.6" height="22.3" fill="#dfe2e4"/>
<rect x="1110.1" y="1477.3" width="93.6" height="22.3" fill="#f5b497"/>
<rect x="1203.2" y="1477.3" width="93.6" height="22.3" fill="#f5b497"/>
<rect x="1296.2" y="1477.3" width="93.6" height="22.3" fill="#e7856c"/>
<rect x="1389.3" y="1477.3" width="93.0" height="22.3" fill="#ea8f73"/>
<rect x="179.7" y="1499.0" width="93.6" height="22.3" fill="#61a4ce"/>
<rect x="272.7" y="1499.0" width="93.6" height="22.3" fill="#f5ded2"/>
<rect x="365.8" y="1499.0" width="93.6" height="22.3" fill="#ece0db"/>
<rect x="458.8" y="1499.0" width="93.6" height="22.3" fill="#3983be"/>
<rect x="551.9" y="1499.0" width="93.6" height="22.3" fill="#afd3e6"/>
<rect x="644.9" y="1499.0" width="93.6" height="22.3" fill="#b9d8e8"/>
<rect x="738.0" y="1499.0" width="93.6" height="22.3" fill="#e5e1de"/>
<rect x="831.0" y="1499.0" width="93.6" height="22.3" fill="#dfe2e4"/>
<rect x="924.0" y="1499.0" width="93.6" height="22.3" fill="#dfe2e4"/>
<rect x="1017.1" y="1499.0" width="93.6" height="22.3" fill="#e3e1e0"/>
<rect x="1110.1" y="1499.0" width="93.6" height="22.3" fill="#e98b70"/>
<rect x="1203.2" y="1499.0" width="93.6" height="22.3" fill="#e7856c"/>
<rect x="1296.2" y="1499.0" width="93.6" height="22.3" fill="#ef9c7c"/>
<rect x="1389.3" y="1499.0" width="93.0" height="22.3" fill="#ea8f73"/>
<rect x="179.7" y="1520.7" width="93.6" height="22.3" fill="#61a4ce"/>
<rect x="272.7" y="1520.7" width="93.6" height="22.3" fill="#f3a989"/>
<rect x="365.8" y="1520.7" width="93.6" height="22.3" fill="#c3ddeb"/>
<rect x="458.8" y="1520.7" width="93.6" height="22.3" fill="#7ab3d6"/>
<rect x="551.9" y="1520.7" width="93.6" height="22.3" fill="#4894c6"/>
<rect x="644.9" y="1520.7" width="93.6" height="22.3" fill="#f5ded2"/>
<rect x="738.0" y="1520.7" width="93.6" height="22.3" fill="#d9e3ea"/>
<rect x="831.0" y="1520.7" width="93.6" height="22.3" fill="#dfe2e4"/>
<rect x="924.0" y="1520.7" width="93.6" height="22.3" fill="#e8e1dc"/>
<rect x="1017.1" y="1520.7" width="93.6" height="22.3" fill="#f5ded2"/>
<rect x="1110.1" y="1520.7" width="93.6" height="22.3" fill="#efe0da"/>
<rect x="1203.2" y="1520.7" width="93.6" height="22.3" fill="#ee9879"/>
<rect x="1296.2" y="1520.7" width="93.6" height="22.3" fill="#d25147"/>
<rect x="1389.3" y="1520.7" width="93.0" height="22.3" fill="#f2a482"/>
<rect x="179.7" y="1542.4" width="93.6" height="22.3" fill="#254a86"/>
<rect x="272.7" y="1542.4" width="93.6" height="22.3" fill="#e3e1e0"/>
<rect x="365.8" y="1542.4" width="93.6" height="22.3" fill="#a5cee3"/>
<rect x="458.8" y="1542.4" width="93.6" height="22.3" fill="#f9ceb8"/>
<rect x="551.9" y="1542.4" width="93.6" height="22.3" fill="#b4d6e7"/>
<rect x="644.9" y="1542.4" width="93.6" height="22.3" fill="#f6dcce"/>
<rect x="738.0" y="1542.4" width="93.6" height="22.3" fill="#ece0db"/>
<rect x="831.0" y="1542.4" width="93.6" height="22.3" fill="#f5ded2"/>
<rect x="924.0" y="1542.4" width="93.6" height="22.3" fill="#d0e2ed"/>
<rect x="1017.1" y="1542.4" width="93.6" height="22.3" fill="#f2e0d8"/>
<rect x="1110.1" y="1542.4" width="93.6" height="22.3" fill="#f8c4ab"/>
<rect x="1203.2" y="1542.4" width="93.6" height="22.3" fill="#fad4be"/>
<rect x="1296.2" y="1542.4" width="93.6" height="22.3" fill="#ee9879"/>
<rect x="1389.3" y="1542.4" width="93.0" height="22.3" fill="#e7856c"/>
<rect x="179.7" y="1564.1" width="93.6" height="22.3" fill="#2c70b3"/>
<rect x="272.7" y="1564.1" width="93.6" height="22.3" fill="#a0cbe1"/>
<rect x="365.8" y="1564.1" width="93.6" height="22.3" fill="#9ac7e0"/>
<rect x="458.8" y="1564.1" width="93.6" height="22.3" fill="#e5e1de"/>
<rect x="551.9" y="1564.1" width="93.6" height="22.3" fill="#ece0db"/>
<rect x="644.9" y="1564.1" width="93.6" height="22.3" fill="#e5e1de"/>
<rect x="738.0" y="1564.1" width="93.6" height="22.3" fill="#afd3e6"/>
<rect x="831.0" y="1564.1" width="93.6" height="22.3" fill="#d9e3ea"/>
<rect x="924.0" y="1564.1" width="93.6" height="22.3" fill="#d9e3ea"/>
<rect x="1017.1" y="1564.1" width="93.6" height="22.3" fill="#f6b99e"/>
<rect x="1110.1" y="1564.1" width="93.6" height="22.3" fill="#f2a482"/>
<rect x="1203.2" y="1564.1" width="93.6" height="22.3" fill="#f0a07f"/>
<rect x="1296.2" y="1564.1" width="93.6" height="22.3" fill="#e27a63"/>
<rect x="1389.3" y="1564.1" width="93.0" height="22.3" fill="#e98b70"/>
<rect x="179.7" y="1585.8" width="93.6" height="22.3" fill="#2966ac"/>
<rect x="272.7" y="1585.8" width="93.6" height="22.3" fill="#aad0e4"/>
<rect x="365.8" y="1585.8" width="93.6" height="22.3" fill="#c3ddeb"/>
<rect x="458.8" y="1585.8" width="93.6" height="22.3" fill="#d5e4ee"/>
<rect x="551.9" y="1585.8" width="93.6" height="22.3" fill="#c3ddeb"/>
<rect x="644.9" y="1585.8" width="93.6" height="22.3" fill="#a0cbe1"/>
<rect x="738.0" y="1585.8" width="93.6" height="22.3" fill="#dfe2e4"/>
<rect x="831.0" y="1585.8" width="93.6" height="22.3" fill="#fadac8"/>
<rect x="924.0" y="1585.8" width="93.6" height="22.3" fill="#f9ceb8"/>
<rect x="1017.1" y="1585.8" width="93.6" height="22.3" fill="#f8dbcb"/>
<rect x="1110.1" y="1585.8" width="93.6" height="22.3" fill="#f5b497"/>
<rect x="1203.2" y="1585.8" width="93.6" height="22.3" fill="#f6b99e"/>
<rect x="1296.2" y="1585.8" width="93.6" height="22.3" fill="#e0755f"/>
<rect x="1389.3" y="1585.8" width="93.0" height="22.3" fill="#ea8f73"/>
<rect x="179.7" y="1607.5" width="93.6" height="22.3" fill="#408ec4"/>
<rect x="272.7" y="1607.5" width="93.6" height="22.3" fill="#afd3e6"/>
<rect x="365.8" y="1607.5" width="93.6" height="22.3" fill="#c8dfec"/>
<rect x="458.8" y="1607.5" width="93.6" height="22.3" fill="#d5e4ee"/>
<rect x="551.9" y="1607.5" width="93.6" height="22.3" fill="#5099c9"/>
<rect x="644.9" y="1607.5" width="93.6" height="22.3" fill="#f5b497"/>
<rect x="738.0" y="1607.5" width="93.6" height="22.3" fill="#95c4de"/>
<rect x="831.0" y="1607.5" width="93.6" height="22.3" fill="#e8e1dc"/>
<rect x="924.0" y="1607.5" width="93.6" height="22.3" fill="#f5ded2"/>
<rect x="1017.1" y="1607.5" width="93.6" height="22.3" fill="#f6b99e"/>
<rect x="1110.1" y="1607.5" width="93.6" height="22.3" fill="#e58068"/>
<rect x="1203.2" y="1607.5" width="93.6" height="22.3" fill="#f5ded2"/>
<rect x="1296.2" y="1607.5" width="93.6" height="22.3" fill="#e7856c"/>
<rect x="1389.3" y="1607.5" width="93.0" height="22.3" fill="#ee9879"/>
<rect x="179.7" y="1629.2" width="93.6" height="22.3" fill="#3178b7"/>
<rect x="272.7" y="1629.2" width="93.6" height="22.3" fill="#fbd9c5"/>
<rect x="365.8" y="1629.2" width="93.6" height="22.3" fill="#c8dfec"/>
<rect x="458.8" y="1629.2" width="93.6" height="22.3" fill="#90c0dc"/>
<rect x="551.9" y="1629.2" width="93.6" height="22.3" fill="#b4d6e7"/>
<rect x="644.9" y="1629.2" width="93.6" height="22.3" fill="#f2e0d8"/>
<rect x="738.0" y="1629.2" width="93.6" height="22.3" fill="#afd3e6"/>
<rect x="831.0" y="1629.2" width="93.6" height="22.3" fill="#f7bea4"/>
<rect x="924.0" y="1629.2" width="93.6" height="22.3" fill="#e5e1de"/>
<rect x="1017.1" y="1629.2" width="93.6" height="22.3" fill="#f2e0d8"/>
<rect x="1110.1" y="1629.2" width="93.6" height="22.3" fill="#e27a63"/>
<rect x="1203.2" y="1629.2" width="93.6" height="22.3" fill="#d0e2ed"/>
<rect x="1296.2" y="1629.2" width="93.6" height="22.3" fill="#e7856c"/>
<rect x="1389.3" y="1629.2" width="93.0" height="22.3" fill="#e27a63"/>
<rect x="179.7" y="1650.9" width="93.6" height="22.3" fill="#2862a9"/>
<rect x="272.7" y="1650.9" width="93.6" height="22.3" fill="#aad0e4"/>
<rect x="365.8" y="1650.9" width="93.6" height="22.3" fill="#5099c9"/>
<rect x="458.8" y="1650.9" width="93.6" height="22.3" fill="#cce0ec"/>
<rect x="551.9" y="1650.9" width="93.6" height="22.3" fill="#f2e0d8"/>
<rect x="644.9" y="1650.9" width="93.6" height="22.3" fill="#fadac8"/>
<rect x="738.0" y="1650.9" width="93.6" height="22.3" fill="#f3a989"/>
<rect x="831.0" y="1650.9" width="93.6" height="22.3" fill="#f8c4ab"/>
<rect x="924.0" y="1650.9" width="93.6" height="22.3" fill="#f8c4ab"/>
<rect x="1017.1" y="1650.9" width="93.6" height="22.3" fill="#f8dbcb"/>
<rect x="1110.1" y="1650.9" width="93.6" height="22.3" fill="#f6dcce"/>
<rect x="1203.2" y="1650.9" width="93.6" height="22.3" fill="#f8c4ab"/>
<rect x="1296.2" y="1650.9" width="93.6" height="22.3" fill="#f4ae90"/>
<rect x="1389.3" y="1650.9" width="93.0" height="22.3" fill="#f8c9b2"/>
<rect x="179.7" y="1672.6" width="93.6" height="22.3" fill="#2862a9"/>
<rect x="272.7" y="1672.6" width="93.6" height="22.3" fill="#a5cee3"/>
<rect x="365.8" y="1672.6" width="93.6" height="22.3" fill="#4894c6"/>
<rect x="458.8" y="1672.6" width="93.6" height="22.3" fill="#ece0db"/>
<rect x="551.9" y="1672.6" width="93.6" height="22.3" fill="#f4dfd5"/>
<rect x="644.9" y="1672.6" width="93.6" height="22.3" fill="#f8c9b2"/>
<rect x="738.0" y="1672.6" width="93.6" height="22.3" fill="#f9ceb8"/>
<rect x="831.0" y="1672.6" width="93.6" height="22.3" fill="#e8e1dc"/>
<rect x="924.0" y="1672.6" width="93.6" height="22.3" fill="#ece0db"/>
<rect x="1017.1" y="1672.6" width="93.6" height="22.3" fill="#f6dcce"/>
<rect x="1110.1" y="1672.6" width="93.6" height="22.3" fill="#f2a482"/>
<rect x="1203.2" y="1672.6" width="93.6" height="22.3" fill="#f9ceb8"/>
<rect x="1296.2" y="1672.6" width="93.6" height="22.3" fill="#ef9c7c"/>
<rect x="1389.3" y="1672.6" width="93.0" height="22.3" fill="#f5b497"/>
<rect x="179.7" y="1694.3" width="93.6" height="22.3" fill="#2862a9"/>
<rect x="272.7" y="1694.3" width="93.6" height="22.3" fill="#cce0ec"/>
<rect x="365.8" y="1694.3" width="93.6" height="22.3" fill="#8abddb"/>
<rect x="458.8" y="1694.3" width="93.6" height="22.3" fill="#9ac7e0"/>
<rect x="551.9" y="1694.3" width="93.6" height="22.3" fill="#e3e1e0"/>
<rect x="644.9" y="1694.3" width="93.6" height="22.3" fill="#f8c9b2"/>
<rect x="738.0" y="1694.3" width="93.6" height="22.3" fill="#f8dbcb"/>
<rect x="831.0" y="1694.3" width="93.6" height="22.3" fill="#e5e1de"/>
<rect x="924.0" y="1694.3" width="93.6" height="22.3" fill="#e5e1de"/>
<rect x="1017.1" y="1694.3" width="93.6" height="22.3" fill="#f8dbcb"/>
<rect x="1110.1" y="1694.3" width="93.6" height="22.3" fill="#f2a482"/>
<rect x="1203.2" y="1694.3" width="93.6" height="22.3" fill="#f2a482"/>
<rect x="1296.2" y="1694.3" width="93.6" height="22.3" fill="#f6b99e"/>
<rect x="1389.3" y="1694.3" width="93.0" height="22.3" fill="#f0a07f"/>
<rect x="179.7" y="1716.0" width="93.6" height="22.3" fill="#254a86"/>
<rect x="272.7" y="1716.0" width="93.6" height="22.3" fill="#dde2e6"/>
<rect x="365.8" y="1716.0" width="93.6" height="22.3" fill="#90c0dc"/>
<rect x="458.8" y="1716.0" width="93.6" height="22.3" fill="#d5e4ee"/>
<rect x="551.9" y="1716.0" width="93.6" height="22.3" fill="#c3ddeb"/>
<rect x="644.9" y="1716.0" width="93.6" height="22.3" fill="#fad4be"/>
<rect x="738.0" y="1716.0" width="93.6" height="22.3" fill="#f4dfd5"/>
<rect x="831.0" y="1716.0" width="93.6" height="22.3" fill="#f7bea4"/>
<rect x="924.0" y="1716.0" width="93.6" height="22.3" fill="#fad4be"/>
<rect x="1017.1" y="1716.0" width="93.6" height="22.3" fill="#fadac8"/>
<rect x="1110.1" y="1716.0" width="93.6" height="22.3" fill="#f9ceb8"/>
<rect x="1203.2" y="1716.0" width="93.6" height="22.3" fill="#fbd9c5"/>
<rect x="1296.2" y="1716.0" width="93.6" height="22.3" fill="#f2a482"/>
<rect x="1389.3" y="1716.0" width="93.0" height="22.3" fill="#f3a989"/>
<rect x="179.7" y="1737.7" width="93.6" height="22.3" fill="#26447d"/>
<rect x="272.7" y="1737.7" width="93.6" height="22.3" fill="#cce0ec"/>
<rect x="365.8" y="1737.7" width="93.6" height="22.3" fill="#90c0dc"/>
<rect x="458.8" y="1737.7" width="93.6" height="22.3" fill="#d9e3ea"/>
<rect x="551.9" y="1737.7" width="93.6" height="22.3" fill="#e1e2e2"/>
<rect x="644.9" y="1737.7" width="93.6" height="22.3" fill="#f9ceb8"/>
<rect x="738.0" y="1737.7" width="93.6" height="22.3" fill="#f5ded2"/>
<rect x="831.0" y="1737.7" width="93.6" height="22.3" fill="#f6dcce"/>
<rect x="924.0" y="1737.7" width="93.6" height="22.3" fill="#f8dbcb"/>
<rect x="1017.1" y="1737.7" width="93.6" height="22.3" fill="#fadac8"/>
<rect x="1110.1" y="1737.7" width="93.6" height="22.3" fill="#f5b497"/>
<rect x="1203.2" y="1737.7" width="93.6" height="22.3" fill="#f9ceb8"/>
<rect x="1296.2" y="1737.7" width="93.6" height="22.3" fill="#f5b497"/>
<rect x="1389.3" y="1737.7" width="93.0" height="22.3" fill="#f5b497"/>
<rect x="179.7" y="1759.4" width="93.6" height="22.3" fill="#26427b"/>
<rect x="272.7" y="1759.4" width="93.6" height="22.3" fill="#f4dfd5"/>
<rect x="365.8" y="1759.4" width="93.6" height="22.3" fill="#d5e4ee"/>
<rect x="458.8" y="1759.4" width="93.6" height="22.3" fill="#d9e3ea"/>
<rect x="551.9" y="1759.4" width="93.6" height="22.3" fill="#dfe2e4"/>
<rect x="644.9" y="1759.4" width="93.6" height="22.3" fill="#ee9879"/>
<rect x="738.0" y="1759.4" width="93.6" height="22.3" fill="#f2a482"/>
<rect x="831.0" y="1759.4" width="93.6" height="22.3" fill="#f3a989"/>
<rect x="924.0" y="1759.4" width="93.6" height="22.3" fill="#f8c9b2"/>
<rect x="1017.1" y="1759.4" width="93.6" height="22.3" fill="#e5e1de"/>
<rect x="1110.1" y="1759.4" width="93.6" height="22.3" fill="#d9e3ea"/>
<rect x="1203.2" y="1759.4" width="93.6" height="22.3" fill="#dde2e6"/>
<rect x="1296.2" y="1759.4" width="93.6" height="22.3" fill="#fadac8"/>
<rect x="1389.3" y="1759.4" width="93.0" height="22.3" fill="#f9ceb8"/>
<rect x="179.7" y="1781.1" width="93.6" height="22.3" fill="#2966ac"/>
<rect x="272.7" y="1781.1" width="93.6" height="22.3" fill="#f8c4ab"/>
<rect x="365.8" y="1781.1" width="93.6" height="22.3" fill="#9ac7e0"/>
<rect x="458.8" y="1781.1" width="93.6" height="22.3" fill="#7fb6d8"/>
<rect x="551.9" y="1781.1" width="93.6" height="22.3" fill="#dfe2e4"/>
<rect x="644.9" y="1781.1" width="93.6" height="22.3" fill="#f2a482"/>
<rect x="738.0" y="1781.1" width="93.6" height="22.3" fill="#dfe2e4"/>
<rect x="831.0" y="1781.1" width="93.6" height="22.3" fill="#e3e1e0"/>
<rect x="924.0" y="1781.1" width="93.6" height="22.3" fill="#e3e1e0"/>
<rect x="1017.1" y="1781.1" width="93.6" height="22.3" fill="#e3e1e0"/>
<rect x="1110.1" y="1781.1" width="93.6" height="22.3" fill="#f2a482"/>
<rect x="1203.2" y="1781.1" width="93.6" height="22.3" fill="#f9ceb8"/>
<rect x="1296.2" y="1781.1" width="93.6" height="22.3" fill="#f6b99e"/>
<rect x="1389.3" y="1781.1" width="93.0" height="22.3" fill="#e0755f"/>
<rect x="179.7" y="1802.8" width="93.6" height="22.3" fill="#254e8e"/>
<rect x="272.7" y="1802.8" width="93.6" height="22.3" fill="#fbd9c5"/>
<rect x="365.8" y="1802.8" width="93.6" height="22.3" fill="#b9d8e8"/>
<rect x="458.8" y="1802.8" width="93.6" height="22.3" fill="#a0cbe1"/>
<rect x="551.9" y="1802.8" width="93.6" height="22.3" fill="#aad0e4"/>
<rect x="644.9" y="1802.8" width="93.6" height="22.3" fill="#f3a989"/>
<rect x="738.0" y="1802.8" width="93.6" height="22.3" fill="#e3e1e0"/>
<rect x="831.0" y="1802.8" width="93.6" height="22.3" fill="#fad4be"/>
<rect x="924.0" y="1802.8" width="93.6" height="22.3" fill="#fad4be"/>
<rect x="1017.1" y="1802.8" width="93.6" height="22.3" fill="#f2e0d8"/>
<rect x="1110.1" y="1802.8" width="93.6" height="22.3" fill="#f8c4ab"/>
<rect x="1203.2" y="1802.8" width="93.6" height="22.3" fill="#f8c9b2"/>
<rect x="1296.2" y="1802.8" width="93.6" height="22.3" fill="#f7bea4"/>
<rect x="1389.3" y="1802.8" width="93.0" height="22.3" fill="#f3a989"/>
<rect x="179.7" y="1824.5" width="93.6" height="21.7" fill="#265ba4"/>
<rect x="272.7" y="1824.5" width="93.6" height="21.7" fill="#f5ded2"/>
<rect x="365.8" y="1824.5" width="93.6" height="21.7" fill="#85bad9"/>
<rect x="458.8" y="1824.5" width="93.6" height="21.7" fill="#bedaea"/>
<rect x="551.9" y="1824.5" width="93.6" height="21.7" fill="#c8dfec"/>
<rect x="644.9" y="1824.5" width="93.6" height="21.7" fill="#fadac8"/>
<rect x="738.0" y="1824.5" width="93.6" height="21.7" fill="#efe0da"/>
<rect x="831.0" y="1824.5" width="93.6" height="21.7" fill="#f4ae90"/>
<rect x="924.0" y="1824.5" width="93.6" height="21.7" fill="#f4dfd5"/>
<rect x="1017.1" y="1824.5" width="93.6" height="21.7" fill="#d5e4ee"/>
<rect x="1110.1" y="1824.5" width="93.6" height="21.7" fill="#f8c4ab"/>
<rect x="1203.2" y="1824.5" width="93.6" height="21.7" fill="#f6dcce"/>
<rect x="1296.2" y="1824.5" width="93.6" height="21.7" fill="#e58068"/>
<rect x="1389.3" y="1824.5" width="93.0" height="21.7" fill="#e7856c"/>
</g>
<g shape-rendering="crispEdges">
<rect x="179.7" y="182.5" width="465.7" height="26.2" fill="#9e1c20"/>
<rect x="644.9" y="182.5" width="372.7" height="26.2" fill="#fbcd3f"/>
<rect x="1017.1" y="182.5" width="465.2" height="26.2" fill="#824fa3"/>
</g>
<path class="d" d="M505.3 180.2 V152.0 H598.4 V180.2 M412.3 180.2 V150.8 H551.9 V152.0 M319.3 180.2 V139.3 H482.1 V150.8 M226.2 180.2 V119.0 H400.7 V139.3 M877.5 180.2 V162.3 H970.6 V180.2 M784.5 180.2 V157.5 H924.0 V162.3 M691.4 180.2 V153.6 H854.3 V157.5 M1342.7 180.2 V160.0 H1435.8 V180.2 M1249.7 180.2 V154.8 H1389.3 V160.0 M1156.6 180.2 V152.8 H1319.5 V154.8 M1063.6 180.2 V148.8 H1238.1 V152.8 M772.8 153.6 V85.3 H1150.8 V148.8 M313.4 119.0 V8.2 H961.8 V85.3"/>
<g class="lb">
<text x="1492.3" y="236.9">maltotriose</text>
<text x="1493.7" y="259.1">fructose</text>
<text x="1493.9" y="280.7">maltitol</text>
<text x="1493.7" y="300.4">melibiose</text>
<text x="1493.7" y="321.6">phenylpropionic acid</text>
<text x="1493.7" y="343.8">3-(4-hydroxyphenyl)propionic acid</text>
<text x="1493.7" y="364.7" class="hl">putrescine</text>
<text x="1493.7" y="386.1">pyrophosphate</text>
<text x="1493.3" y="411.3">1-methyladenosine</text>
<text x="1493.7" y="430.9">aminomalonate</text>
<text x="1493.7" y="453.0">2-aminobutyric acid</text>
<text x="1494.1" y="476.4">3-phenyllactic acid</text>
<text x="1494.1" y="495.6">glutamine*</text>
<text x="1494.7" y="517.0">galactinol</text>
<text x="1494.9" y="539.5">allantoic acid</text>
<text x="1496.3" y="562.3">1-kestose</text>
<text x="1496.3" y="584.5">beta-gentiobiose</text>
<text x="1496.4" y="603.4">phenol</text>
<text x="1496.7" y="626.5">tagatose</text>
<text x="1496.7" y="646.3">pyruvic acid</text>
<text x="1496.7" y="669.3">uric acid</text>
<text x="1496.9" y="692.8">heptadecanoic acid</text>
<text x="1496.9" y="713.4">nonadecanoic acid</text>
<text x="1496.5" y="733.2" class="hl">ornithine*</text>
<text x="1496.7" y="756.5">cholesterol</text>
<text x="1497.3" y="776.9">p-tolyl glucuronide</text>
<text x="1497.3" y="801.3">mucic acid</text>
<text x="1497.3" y="823.7">N-carbamoylaspartic acid</text>
<text x="1497.7" y="844.9">beta-glycerolphosphate</text>
<text x="1497.3" y="866.4">lyxitol</text>
<text x="1497.3" y="887.2">arabitol</text>
<text x="1498.4" y="910.4">levoglucosan</text>
<text x="1497.3" y="930.9">succinic acid</text>
<text x="1498.6" y="950.7">pentitol</text>
<text x="1498.2" y="973.5">xylitol</text>
<text x="1497.7" y="997.1">2,6-diaminopimelic acid</text>
<text x="1497.7" y="1018.9">4-hydroxyphenylacetic acid</text>
<text x="1499.8" y="1037.5">phenylacetic acid</text>
<text x="1500.0" y="1060.9">indole-3-acetate</text>
<text x="1498.2" y="1083.2">4-hydroxybutyric acid</text>
<text x="1498.2" y="1105.6">2-hydroxyglutaric acid</text>
<text x="1498.6" y="1126.4">conduritol-beta-epoxide</text>
<text x="1498.4" y="1147.0">orotic acid</text>
<text x="1499.0" y="1170.3">N-acetylaspartic acid</text>
<text x="1498.2" y="1191.9" class="hl">5-aminovaleric acid</text>
<text x="1499.2" y="1213.1">ferulic acid</text>
<text x="1499.8" y="1235.7">isopentadecanoic acid</text>
<text x="1500.4" y="1256.4">mannonic acid</text>
<text x="1500.0" y="1277.6">parabanic acid</text>
<text x="1500.4" y="1300.0">oleic acid</text>
<text x="1500.8" y="1320.9">homocystine</text>
<text x="1500.6" y="1342.3">glutaric acid</text>
<text x="1501.8" y="1364.1">phosphate</text>
<text x="1500.6" y="1385.8">ethanol phosphate</text>
<text x="1501.8" y="1408.7">fumaric acid</text>
<text x="1501.8" y="1429.1">malic acid</text>
<text x="1502.2" y="1452.3">3-(4-dihydroxy)cinnamic acid</text>
<text x="1502.4" y="1472.2">pinitol</text>
<text x="1502.2" y="1493.6" class="hl">citrulline*</text>
<text x="1502.2" y="1514.8">hexadecylglycerol</text>
<text x="1502.2" y="1538.6">indole-3-lactate</text>
<text x="1503.2" y="1558.1">pentadecanoic acid</text>
<text x="1502.6" y="1582.3">beta-glutamic acid*</text>
<text x="1503.2" y="1603.7">isothreitol</text>
<text x="1503.2" y="1625.5">inositol</text>
<text x="1502.8" y="1646.0">galacturonic acid</text>
<text x="1502.6" y="1667.6">glutamic acid*</text>
<text x="1503.2" y="1689.6">nicotinic acid</text>
<text x="1502.8" y="1710.5">oxoproline</text>
<text x="1503.8" y="1731.1">pentonic acid</text>
<text x="1505.2" y="1754.0">aspartic acid*</text>
<text x="1504.4" y="1775.5">ribonic acid</text>
<text x="1504.4" y="1796.6">maleimide</text>
<text x="1505.7" y="1821.6">2,5-dihydroxypyrazine</text>
<text x="1503.9" y="1842.5">diglycerol</text>
</g>
<defs><linearGradient id="cbg" x1="0" y1="1" x2="0" y2="0">
<stop offset="0.0000" stop-color="#283C76"/>
<stop offset="0.0417" stop-color="#25467F"/>
<stop offset="0.0833" stop-color="#265BA4"/>
<stop offset="0.1333" stop-color="#2C70B3"/>
<stop offset="0.2000" stop-color="#408EC4"/>
<stop offset="0.2500" stop-color="#589FCB"/>
<stop offset="0.2833" stop-color="#7AB3D6"/>
<stop offset="0.3500" stop-color="#A5CEE3"/>
<stop offset="0.4000" stop-color="#C3DDEB"/>
<stop offset="0.4333" stop-color="#D5E4EE"/>
<stop offset="0.5000" stop-color="#E5E1DE"/>
<stop offset="0.5333" stop-color="#F2E0D8"/>
<stop offset="0.5833" stop-color="#FBD9C5"/>
<stop offset="0.6333" stop-color="#F6B99E"/>
<stop offset="0.6667" stop-color="#F2A482"/>
<stop offset="0.7167" stop-color="#E98B70"/>
<stop offset="0.7583" stop-color="#DE6F5B"/>
<stop offset="0.8000" stop-color="#D5574A"/>
<stop offset="0.8333" stop-color="#C9403D"/>
<stop offset="0.8833" stop-color="#B8202E"/>
<stop offset="0.9167" stop-color="#A01C28"/>
<stop offset="1.0000" stop-color="#6A0F24"/>
</linearGradient></defs>
<rect x="1818.2" y="171.5" width="35.8" height="536.1" fill="url(#cbg)"/>
<g class="cb">
<text x="1868.4" y="181.6">3</text>
<text x="1868.4" y="271.0">2</text>
<text x="1868.4" y="360.3">1</text>
<text x="1868.4" y="449.7">0</text>
<text x="1868.4" y="539.0">-1</text>
<text x="1868.4" y="628.4">-2</text>
<text x="1868.4" y="717.7">-3</text>
</g>
<g shape-rendering="crispEdges"><rect x="1902.2" y="200" width="39.4" height="40" fill="#fbcd3f"/><rect x="1902.2" y="239.8" width="39.4" height="40" fill="#824fa3"/><rect x="1902.2" y="279.6" width="39.4" height="39.8" fill="#9e1c20"/></g>
<g class="lg"><text x="1949.4" y="226.8">Ctrl</text><text x="1950.6" y="267.3">Tox-</text><text x="1951" y="305.2">WT</text></g>
<text class="pn" x="10.5" y="44.5" style="font-size:42.3px">a</text>
<text class="pn" x="-0.1" y="1935.5" style="font-size:43.3px">b</text>
<g>
<path d="M198.4 2219.7 H233.2 M215.8 2219.7 V2329.0 M198.4 2329.0 H233.2" fill="none" stroke="#FAD37F" stroke-width="2.1"/>
<path d="M300.9 2141.6 H335.7 M318.3 2141.6 V2223.3 M300.9 2223.3 H335.7" fill="none" stroke="#8063A8" stroke-width="2.1"/>
<path d="M403.5 2051.9 H438.3 M420.9 2051.9 V2107.3 M403.5 2107.3 H438.3" fill="none" stroke="#9E1B1E" stroke-width="2.1"/>
<rect x="185.3" y="2278.2" width="60.8" height="164.8" fill="#FAD37F" fill-opacity="0.76"/>
<path d="M185.3 2443.0 V2278.2 H246.1 V2443.0" fill="none" stroke="#FAD37F" stroke-width="7.0"/>
<rect x="287.7" y="2186.4" width="61.6" height="256.6" fill="#8063A8" fill-opacity="0.76"/>
<path d="M287.7 2443.0 V2186.4 H349.3 V2443.0" fill="none" stroke="#8063A8" stroke-width="7.0"/>
<rect x="390.8" y="2083.7" width="61.2" height="359.3" fill="#97260A" fill-opacity="0.76"/>
<path d="M390.8 2443.0 V2083.7 H452.0 V2443.0" fill="none" stroke="#9E1B1E" stroke-width="7.0"/>
<circle cx="215.8" cy="2116.0" r="10.3" fill="#FAD37F" fill-opacity="0.76" stroke="#FAD37F" stroke-width="4.4"/>
<circle cx="190.9" cy="2348.3" r="10.3" fill="#FAD37F" fill-opacity="0.76" stroke="#FAD37F" stroke-width="4.4"/>
<circle cx="239.9" cy="2345.9" r="10.3" fill="#FAD37F" fill-opacity="0.76" stroke="#FAD37F" stroke-width="4.4"/>
<circle cx="215.0" cy="2288.4" r="10.3" fill="#FAD37F" fill-opacity="0.76" stroke="#FAD37F" stroke-width="4.4"/>
<circle cx="318.3" cy="2087.4" r="10.3" fill="#8063A8" fill-opacity="0.76" stroke="#8063A8" stroke-width="4.4"/>
<circle cx="318.3" cy="2113.4" r="10.3" fill="#8063A8" fill-opacity="0.76" stroke="#8063A8" stroke-width="4.4"/>
<circle cx="318.3" cy="2152.3" r="10.3" fill="#8063A8" fill-opacity="0.76" stroke="#8063A8" stroke-width="4.4"/>
<circle cx="294.5" cy="2286.0" r="10.3" fill="#8063A8" fill-opacity="0.76" stroke="#8063A8" stroke-width="4.4"/>
<circle cx="342.8" cy="2272.6" r="10.3" fill="#8063A8" fill-opacity="0.76" stroke="#8063A8" stroke-width="4.4"/>
<circle cx="421.5" cy="1996.2" r="10.3" fill="#A02418" fill-opacity="0.76" stroke="#9E1B1E" stroke-width="4.4"/>
<circle cx="397.0" cy="2069.7" r="10.3" fill="#A02418" fill-opacity="0.76" stroke="#9E1B1E" stroke-width="4.4"/>
<circle cx="445.4" cy="2068.8" r="10.3" fill="#A02418" fill-opacity="0.76" stroke="#9E1B1E" stroke-width="4.4"/>
<circle cx="421.5" cy="2094.2" r="10.3" fill="#A02418" fill-opacity="0.76" stroke="#9E1B1E" stroke-width="4.4"/>
<circle cx="421.5" cy="2170.7" r="10.3" fill="#A02418" fill-opacity="0.76" stroke="#9E1B1E" stroke-width="4.4"/>
<rect class="ax" x="147.3" y="1929.5" width="342.7" height="513.5"/>
<path class="ax" d="M132.6 1929.5 H147.3 M132.6 2057.9 H147.3 M132.6 2186.3 H147.3 M132.6 2314.6 H147.3 M132.6 2443.0 H147.3 M215.8 2443.0 V2451.5 M318.3 2443.0 V2451.5 M420.9 2443.0 V2451.5 M490.0 2443.0 V2448.0"/>
<g class="tk sk" text-anchor="end">
<text x="124.0" y="1941.4">4.6</text>
<text x="124.0" y="2070.0">4.4</text>
<text x="124.0" y="2198.9">4.2</text>
<text x="124.0" y="2327.0">4.0</text>
<text x="124.0" y="2454.0">3.8</text>
</g>
<g class="tk sk">
<text x="186.1" y="2488.1">Ctrl</text>
<text x="282.1" y="2488.1">Tox-</text>
<text x="393.1" y="2488.1">WT</text>
</g>
<text class="ti sk" text-anchor="middle" x="315.0" y="1915.2">Ornithine</text>
<path class="br" d="M215.8 1970.8 V1956.9 H422.6 V1970.8"/>
<text class="st" text-anchor="middle" x="319.6" y="1959.0">*</text>
<path class="br" d="M313.7 1999.8 V1986.2 H400.8 V1999.8"/>
<text class="st" text-anchor="middle" x="357.5" y="1988.5">*</text>
</g>
<g>
<path d="M634.7 2132.9 H669.5 M652.1 2132.9 V2163.7 M634.7 2163.7 H669.5" fill="none" stroke="#FAD37F" stroke-width="2.1"/>
<path d="M737.2 2068.4 H772.0 M754.6 2068.4 V2137.3 M737.2 2137.3 H772.0" fill="none" stroke="#8063A8" stroke-width="2.1"/>
<path d="M840.8 2321.5 H875.6 M858.2 2321.5 V2389.5 M840.8 2389.5 H875.6" fill="none" stroke="#9E1B1E" stroke-width="2.1"/>
<rect x="621.3" y="2152.5" width="62.1" height="288.0" fill="#FAD37F" fill-opacity="0.76"/>
<path d="M621.3 2440.5 V2152.5 H683.4 V2440.5" fill="none" stroke="#FAD37F" stroke-width="7.0"/>
<rect x="724.4" y="2106.8" width="61.3" height="333.7" fill="#8063A8" fill-opacity="0.76"/>
<path d="M724.4 2440.5 V2106.8 H785.7 V2440.5" fill="none" stroke="#8063A8" stroke-width="7.0"/>
<rect x="827.5" y="2359.7" width="61.0" height="80.8" fill="#97260A" fill-opacity="0.76"/>
<path d="M827.5 2440.5 V2359.7 H888.5 V2440.5" fill="none" stroke="#9E1B1E" stroke-width="7.0"/>
<circle cx="652.1" cy="2107.0" r="10.3" fill="#FAD37F" fill-opacity="0.76" stroke="#FAD37F" stroke-width="4.4"/>
<circle cx="627.4" cy="2146.7" r="10.3" fill="#FAD37F" fill-opacity="0.76" stroke="#FAD37F" stroke-width="4.4"/>
<circle cx="676.4" cy="2156.9" r="10.3" fill="#FAD37F" fill-opacity="0.76" stroke="#FAD37F" stroke-width="4.4"/>
<circle cx="652.1" cy="2181.3" r="10.3" fill="#FAD37F" fill-opacity="0.76" stroke="#FAD37F" stroke-width="4.4"/>
<circle cx="731.6" cy="2033.6" r="10.3" fill="#8063A8" fill-opacity="0.76" stroke="#8063A8" stroke-width="4.4"/>
<circle cx="779.0" cy="2045.2" r="10.3" fill="#8063A8" fill-opacity="0.76" stroke="#8063A8" stroke-width="4.4"/>
<circle cx="731.6" cy="2103.3" r="10.3" fill="#8063A8" fill-opacity="0.76" stroke="#8063A8" stroke-width="4.4"/>
<circle cx="779.0" cy="2103.3" r="10.3" fill="#8063A8" fill-opacity="0.76" stroke="#8063A8" stroke-width="4.4"/>
<circle cx="755.2" cy="2225.8" r="10.3" fill="#8063A8" fill-opacity="0.76" stroke="#8063A8" stroke-width="4.4"/>
<circle cx="858.2" cy="2240.0" r="10.3" fill="#A02418" fill-opacity="0.76" stroke="#9E1B1E" stroke-width="4.4"/>
<circle cx="858.2" cy="2320.9" r="10.3" fill="#A02418" fill-opacity="0.76" stroke="#9E1B1E" stroke-width="4.4"/>
<circle cx="858.2" cy="2384.1" r="10.3" fill="#A02418" fill-opacity="0.76" stroke="#9E1B1E" stroke-width="4.4"/>
<circle cx="833.8" cy="2416.1" r="10.3" fill="#A02418" fill-opacity="0.76" stroke="#9E1B1E" stroke-width="4.4"/>
<circle cx="882.1" cy="2415.7" r="10.3" fill="#A02418" fill-opacity="0.76" stroke="#9E1B1E" stroke-width="4.4"/>
<rect class="ax" x="583.7" y="1926.4" width="343.4" height="514.1"/>
<path class="ax" d="M569.8 1926.4 H583.7 M569.8 2029.2 H583.7 M569.8 2132.0 H583.7 M569.8 2234.9 H583.7 M569.8 2337.7 H583.7 M569.8 2440.5 H583.7 M652.0 2440.5 V2449.0 M755.0 2440.5 V2449.0 M858.1 2440.5 V2449.0 M927.1 2440.5 V2445.5"/>
<g class="tk sk" text-anchor="end">
<text x="560.3" y="1938.8">5.2</text>
<text x="560.3" y="2041.6">5.1</text>
<text x="560.3" y="2144.5">5.0</text>
<text x="560.3" y="2247.4">4.9</text>
<text x="560.3" y="2350.3">4.8</text>
<text x="560.3" y="2453.2">4.7</text>
</g>
<g class="tk sk">
<text x="627.5" y="2482.5">Ctrl</text>
<text x="723.9" y="2482.5">Tox-</text>
<text x="834.5" y="2482.5">WT</text>
</g>
<text class="ti sk" text-anchor="middle" x="754.0" y="1909.9">Citrulline</text>
<path class="br" d="M765.2 1972.9 V1959.7 H858.1 V1972.9"/>
<text class="st" text-anchor="middle" x="815.4" y="1960.5">*</text>
<path class="br" d="M652.2 2018.2 V2004.6 H858.1 V2018.2"/>
<text class="st" text-anchor="middle" x="755.2" y="2003.1">*</text>
</g>
<g>
<path d="M1070.9 2025.3 H1105.7 M1088.3 2025.3 V2062.0 M1070.9 2062.0 H1105.7" fill="none" stroke="#FAD37F" stroke-width="2.1"/>
<path d="M1174.4 2029.9 H1209.2 M1191.8 2029.9 V2059.6 M1174.4 2059.6 H1209.2" fill="none" stroke="#8063A8" stroke-width="2.1"/>
<path d="M1277.9 2141.0 H1312.7 M1295.3 2141.0 V2262.5 M1277.9 2262.5 H1312.7" fill="none" stroke="#9E1B1E" stroke-width="2.1"/>
<rect x="1058.2" y="2048.4" width="61.5" height="391.9" fill="#FAD37F" fill-opacity="0.76"/>
<path d="M1058.2 2440.3 V2048.4 H1119.7 V2440.3" fill="none" stroke="#FAD37F" stroke-width="7.0"/>
<rect x="1161.7" y="2048.7" width="60.8" height="391.6" fill="#8063A8" fill-opacity="0.76"/>
<path d="M1161.7 2440.3 V2048.7 H1222.5 V2440.3" fill="none" stroke="#8063A8" stroke-width="7.0"/>
<rect x="1264.8" y="2205.7" width="61.3" height="234.6" fill="#97260A" fill-opacity="0.76"/>
<path d="M1264.8 2440.3 V2205.7 H1326.1 V2440.3" fill="none" stroke="#9E1B1E" stroke-width="7.0"/>
<circle cx="1089.0" cy="1993.8" r="10.3" fill="#FAD37F" fill-opacity="0.76" stroke="#FAD37F" stroke-width="4.4"/>
<circle cx="1064.5" cy="2044.6" r="10.3" fill="#FAD37F" fill-opacity="0.76" stroke="#FAD37F" stroke-width="4.4"/>
<circle cx="1113.4" cy="2055.0" r="10.3" fill="#FAD37F" fill-opacity="0.76" stroke="#FAD37F" stroke-width="4.4"/>
<circle cx="1089.0" cy="2081.9" r="10.3" fill="#FAD37F" fill-opacity="0.76" stroke="#FAD37F" stroke-width="4.4"/>
<circle cx="1191.8" cy="1999.9" r="10.3" fill="#8063A8" fill-opacity="0.76" stroke="#8063A8" stroke-width="4.4"/>
<circle cx="1167.3" cy="2039.1" r="10.3" fill="#8063A8" fill-opacity="0.76" stroke="#8063A8" stroke-width="4.4"/>
<circle cx="1216.3" cy="2039.1" r="10.3" fill="#8063A8" fill-opacity="0.76" stroke="#8063A8" stroke-width="4.4"/>
<circle cx="1191.8" cy="2060.5" r="10.3" fill="#8063A8" fill-opacity="0.76" stroke="#8063A8" stroke-width="4.4"/>
<circle cx="1191.8" cy="2089.6" r="10.3" fill="#8063A8" fill-opacity="0.76" stroke="#8063A8" stroke-width="4.4"/>
<circle cx="1271.4" cy="2055.9" r="10.3" fill="#A02418" fill-opacity="0.76" stroke="#9E1B1E" stroke-width="4.4"/>
<circle cx="1319.4" cy="2064.5" r="10.3" fill="#A02418" fill-opacity="0.76" stroke="#9E1B1E" stroke-width="4.4"/>
<circle cx="1295.3" cy="2239.6" r="10.3" fill="#A02418" fill-opacity="0.76" stroke="#9E1B1E" stroke-width="4.4"/>
<circle cx="1295.3" cy="2293.7" r="10.3" fill="#A02418" fill-opacity="0.76" stroke="#9E1B1E" stroke-width="4.4"/>
<circle cx="1295.3" cy="2354.3" r="10.3" fill="#A02418" fill-opacity="0.76" stroke="#9E1B1E" stroke-width="4.4"/>
<rect class="ax" x="1019.7" y="1925.0" width="344.0" height="515.3"/>
<path class="ax" d="M1005.9 1925.0 H1019.7 M1005.9 2053.8 H1019.7 M1005.9 2182.6 H1019.7 M1005.9 2311.5 H1019.7 M1005.9 2440.3 H1019.7 M1088.5 2440.3 V2448.8 M1191.7 2440.3 V2448.8 M1294.8 2440.3 V2448.8 M1363.7 2440.3 V2445.3"/>
<g class="tk sk" text-anchor="end">
<text x="1000.8" y="1936.9">6.6</text>
<text x="1000.8" y="2065.8">6.4</text>
<text x="1000.8" y="2194.6">6.2</text>
<text x="1000.8" y="2323.5">6.0</text>
<text x="1000.8" y="2442.0">5.8</text>
</g>
<g class="tk sk">
<text x="1059.2" y="2485.2">Ctrl</text>
<text x="1156.7" y="2485.2">Tox-</text>
<text x="1267.8" y="2485.2">WT</text>
</g>
<text class="ti sk" text-anchor="middle" x="1186.9" y="1909.9">5-aminovaleric acid</text>
<path class="br" d="M1088.8 1964.9 V1952.0 H1294.9 V1964.9"/>
<text class="st" text-anchor="middle" x="1192.2" y="1954.5">*</text>
<path class="br" d="M1212.6 1991.8 V1979.2 H1294.9 V1991.8"/>
<text class="st" text-anchor="middle" x="1255.6" y="1980.9">*</text>
</g>
<g>
<path d="M1511.9 2123.2 H1546.7 M1529.3 2123.2 V2190.6 M1511.9 2190.6 H1546.7" fill="none" stroke="#FAD37F" stroke-width="2.1"/>
<path d="M1615.0 2278.1 H1649.8 M1632.4 2278.1 V2327.7 M1615.0 2327.7 H1649.8" fill="none" stroke="#8063A8" stroke-width="2.1"/>
<path d="M1718.5 2072.1 H1753.3 M1735.9 2072.1 V2141.0 M1718.5 2141.0 H1753.3" fill="none" stroke="#9E1B1E" stroke-width="2.1"/>
<rect x="1498.2" y="2160.4" width="61.3" height="278.5" fill="#FAD37F" fill-opacity="0.76"/>
<path d="M1498.2 2438.9 V2160.4 H1559.5 V2438.9" fill="none" stroke="#FAD37F" stroke-width="7.0"/>
<rect x="1601.3" y="2306.4" width="61.9" height="132.5" fill="#8063A8" fill-opacity="0.76"/>
<path d="M1601.3 2438.9 V2306.4 H1663.2 V2438.9" fill="none" stroke="#8063A8" stroke-width="7.0"/>
<rect x="1704.8" y="2110.2" width="61.3" height="328.7" fill="#97260A" fill-opacity="0.76"/>
<path d="M1704.8 2438.9 V2110.2 H1766.1 V2438.9" fill="none" stroke="#9E1B1E" stroke-width="7.0"/>
<circle cx="1529.3" cy="2078.9" r="10.3" fill="#FAD37F" fill-opacity="0.76" stroke="#FAD37F" stroke-width="4.4"/>
<circle cx="1504.8" cy="2147.1" r="10.3" fill="#FAD37F" fill-opacity="0.76" stroke="#FAD37F" stroke-width="4.4"/>
<circle cx="1553.4" cy="2156.3" r="10.3" fill="#FAD37F" fill-opacity="0.76" stroke="#FAD37F" stroke-width="4.4"/>
<circle cx="1529.3" cy="2243.5" r="10.3" fill="#FAD37F" fill-opacity="0.76" stroke="#FAD37F" stroke-width="4.4"/>
<circle cx="1632.4" cy="2238.0" r="10.3" fill="#8063A8" fill-opacity="0.76" stroke="#8063A8" stroke-width="4.4"/>
<circle cx="1656.3" cy="2268.6" r="10.3" fill="#8063A8" fill-opacity="0.76" stroke="#8063A8" stroke-width="4.4"/>
<circle cx="1607.9" cy="2286.1" r="10.3" fill="#8063A8" fill-opacity="0.76" stroke="#8063A8" stroke-width="4.4"/>
<circle cx="1656.3" cy="2352.8" r="10.3" fill="#8063A8" fill-opacity="0.76" stroke="#8063A8" stroke-width="4.4"/>
<circle cx="1607.9" cy="2367.2" r="10.3" fill="#8063A8" fill-opacity="0.76" stroke="#8063A8" stroke-width="4.4"/>
<circle cx="1711.4" cy="2039.7" r="10.3" fill="#A02418" fill-opacity="0.76" stroke="#9E1B1E" stroke-width="4.4"/>
<circle cx="1759.4" cy="2054.1" r="10.3" fill="#A02418" fill-opacity="0.76" stroke="#9E1B1E" stroke-width="4.4"/>
<circle cx="1735.3" cy="2077.3" r="10.3" fill="#A02418" fill-opacity="0.76" stroke="#9E1B1E" stroke-width="4.4"/>
<circle cx="1735.3" cy="2134.6" r="10.3" fill="#A02418" fill-opacity="0.76" stroke="#9E1B1E" stroke-width="4.4"/>
<circle cx="1735.3" cy="2228.8" r="10.3" fill="#A02418" fill-opacity="0.76" stroke="#9E1B1E" stroke-width="4.4"/>
<rect class="ax" x="1460.6" y="1924.4" width="343.9" height="514.5"/>
<path class="ax" d="M1446.2 1924.4 H1460.6 M1446.2 2071.4 H1460.6 M1446.2 2218.4 H1460.6 M1446.2 2365.4 H1460.6 M1529.2 2438.9 V2447.4 M1632.2 2438.9 V2447.4 M1735.3 2438.9 V2447.4 M1804.5 2438.9 V2443.9"/>
<g class="tk sk" text-anchor="end">
<text x="1441.0" y="1935.9">4.4</text>
<text x="1441.0" y="2083.0">4.2</text>
<text x="1441.0" y="2230.0">4.0</text>
<text x="1441.0" y="2377.0">3.8</text>
</g>
<g class="tk sk">
<text x="1493.9" y="2480.5">Ctrl</text>
<text x="1590.7" y="2480.5">Tox-</text>
<text x="1702.4" y="2480.5">WT</text>
</g>
<text class="ti sk" text-anchor="middle" x="1625.5" y="1912.0">Putrescine</text>
<path class="br" d="M1529.5 1970.1 V1956.7 H1622.0 V1970.1"/>
<text class="st" text-anchor="middle" x="1575.9" y="1957.3">*</text>
<path class="br" d="M1642.7 1970.1 V1956.7 H1735.2 V1970.1"/>
<text class="st" text-anchor="middle" x="1689.1" y="1957.3">*</text>
</g>
<text class="sk" transform="translate(37.9,2319.1) rotate(-90)" style="font-size:39px">log<tspan style="font-size:23px" dy="13.3">10</tspan><tspan dy="-13.3"> peak area</tspan></text>
<rect x="1825.5" y="1929.4" width="33.1" height="29.2" fill="#97260A" fill-opacity="0.76" stroke="#9E1B1E" stroke-width="7.4"/>
<text class="lg2 sk" x="1880.0" y="1958.5">WT</text>
<rect x="1824.2" y="1971.4" width="33.1" height="29.2" fill="#8063A8" fill-opacity="0.76" stroke="#8063A8" stroke-width="7.4"/>
<text class="lg2 sk" x="1880.0" y="2000.5">Tox-</text>
<rect x="1825.5" y="2014.2" width="33.1" height="28.8" fill="#FAD37F" fill-opacity="0.76" stroke="#FAD37F" stroke-width="7.4"/>
<text class="lg2 sk" x="1880.0" y="2042.9">Abx control</text>
</svg></body></html>
